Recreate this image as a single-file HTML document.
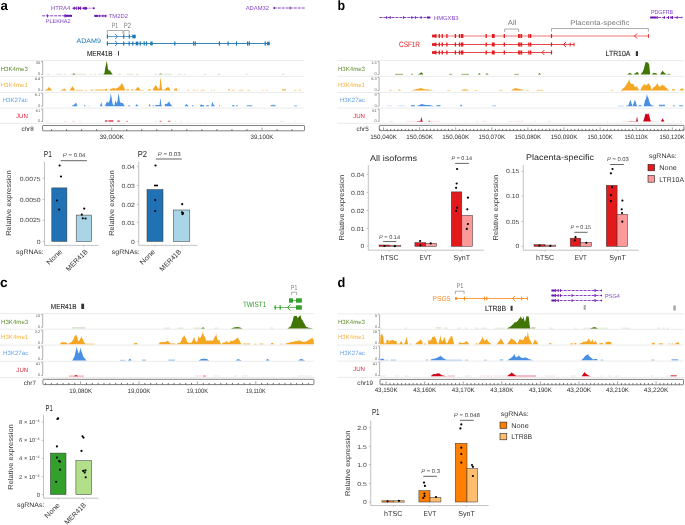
<!DOCTYPE html>
<html><head><meta charset="utf-8"><style>
html,body{margin:0;padding:0;background:#fff;}
svg{display:block;font-family:"Liberation Sans", sans-serif;will-change:transform;text-rendering:geometricPrecision;}
</style></head><body>
<svg width="685" height="525" viewBox="0 0 685 525">
<rect width="685" height="525" fill="#fff"/>
<text x="0.6" y="10.35" font-size="13.2" fill="#000" font-weight="bold" >a</text>
<text x="337.6" y="10.1" font-size="13.6" fill="#000" font-weight="bold" textLength="7.6" lengthAdjust="spacingAndGlyphs" >b</text>
<text x="-0.1" y="287.2" font-size="13.6" fill="#000" font-weight="bold" textLength="7.6" lengthAdjust="spacingAndGlyphs" >c</text>
<text x="337.4" y="287.1" font-size="13.6" fill="#000" font-weight="bold" textLength="7.8" lengthAdjust="spacingAndGlyphs" >d</text>
<text x="50.9" y="9.99" font-size="5.8" fill="#8447c8" textLength="19.3" lengthAdjust="spacingAndGlyphs" >HTRA4</text>
<line x1="72.5" y1="8.2" x2="94" y2="8.2" stroke="#6a12b0" stroke-width="0.7"  opacity="0.6"/>
<path d="M72.3 8.2 L74.7 6.4 L74.7 10 Z" fill="#6a12b0"/>
<rect x="74.2" y="7.4" width="1.4" height="1.6" fill="#6a12b0"/>
<rect x="76.25" y="6.5" width="0.9" height="3.4" fill="#6a12b0"/>
<rect x="77.95" y="6.5" width="0.9" height="3.4" fill="#6a12b0"/>
<rect x="80.15" y="6.5" width="0.9" height="3.4" fill="#6a12b0"/>
<rect x="78.4" y="7.4" width="2.2" height="1.6" fill="#6a12b0"/>
<path d="M82.3 8.2 L84.3 6.6 L84.3 9.8 Z" fill="#6a12b0"/>
<circle cx="85.6" cy="8.2" r="1.5" fill="#6a12b0"/>
<circle cx="93.8" cy="8.2" r="1" fill="#6a12b0"/>
<line x1="42.2" y1="15.8" x2="72" y2="15.8" stroke="#6a12b0" stroke-width="0.8"  stroke-dasharray="3 1"/>
<rect x="46.95" y="14.3" width="0.9" height="3" fill="#6a12b0"/>
<rect x="64.55" y="14.1" width="0.9" height="3.4" fill="#6a12b0"/>
<rect x="64.8" y="14.8" width="7.2" height="2" fill="#6a12b0"/>
<text x="45.7" y="23.02" font-size="5.6" fill="#8447c8" textLength="24.9" lengthAdjust="spacingAndGlyphs" >PLEKHA2</text>
<line x1="94" y1="15.9" x2="106.6" y2="15.9" stroke="#6a12b0" stroke-width="0.8" />
<rect x="94.5" y="14.9" width="3.4" height="2" fill="#6a12b0"/>
<path d="M98.4 15.9 L100.2 14.3 L100.2 17.5 Z" fill="#6a12b0"/>
<path d="M101.6 15.9 L103.4 14.3 L103.4 17.5 Z" fill="#6a12b0"/>
<path d="M104.2 15.9 L105.7 14.4 L105.7 17.4 Z" fill="#6a12b0"/>
<path d="M106.8 15.9 L105.3 14.4 L105.3 17.4 Z" fill="#6a12b0"/>
<text x="108.8" y="17.89" font-size="5.8" fill="#8447c8" textLength="19.2" lengthAdjust="spacingAndGlyphs" >TM2D2</text>
<text x="245.7" y="10.09" font-size="5.8" fill="#8447c8" textLength="23.3" lengthAdjust="spacingAndGlyphs" >ADAM32</text>
<line x1="273.7" y1="8" x2="304.7" y2="8" stroke="#6a12b0" stroke-width="0.8"  stroke-dasharray="3 1"/>
<rect x="273.6" y="6.9" width="1.2" height="2.2" fill="#6a12b0"/>
<rect x="289.6" y="6.5" width="0.8" height="3" fill="#6a12b0"/>
<text x="111.8" y="27.79" font-size="7.6" fill="#7a7a7a" textLength="6.3" lengthAdjust="spacingAndGlyphs" >P1</text>
<text x="123.8" y="28.39" font-size="7.6" fill="#7a7a7a" textLength="7.3" lengthAdjust="spacingAndGlyphs" >P2</text>
<path d="M107.3 33.8 V30.5 H122.9 V33.8" fill="none" stroke="#777" stroke-width="0.6"/>
<path d="M123.9 33.8 V30.5 H129.2 V33.8" fill="none" stroke="#777" stroke-width="0.6"/>
<text x="76.4" y="42.78" font-size="6.6" fill="#1f78b4" textLength="24.6" lengthAdjust="spacingAndGlyphs" >ADAM9</text>
<line x1="107.4" y1="36.5" x2="135.4" y2="36.5" stroke="#1f78b4" stroke-width="0.7" />
<rect x="106.8" y="34.4" width="1.2" height="4.2" fill="#1f78b4"/>
<rect x="123.1" y="34.4" width="1.2" height="4.2" fill="#1f78b4"/>
<rect x="128.7" y="34.4" width="1.2" height="4.2" fill="#1f78b4"/>
<rect x="132.3" y="34.7" width="3.4" height="3.6" fill="#1f78b4"/>
<path d="M115.1 34 L117.6 36.5 L115.1 39" fill="none" stroke="#1f78b4" stroke-width="0.9"/>
<line x1="106.9" y1="43.5" x2="269.8" y2="43.5" stroke="#1f78b4" stroke-width="0.9" />
<rect x="106.8" y="41.4" width="1.2" height="4.2" fill="#1f78b4"/>
<rect x="123.1" y="41.4" width="1.2" height="4.2" fill="#1f78b4"/>
<rect x="128.6" y="41.4" width="1.2" height="4.2" fill="#1f78b4"/>
<rect x="132.2" y="41.4" width="1.2" height="4.2" fill="#1f78b4"/>
<rect x="139.7" y="41.4" width="1.2" height="4.2" fill="#1f78b4"/>
<rect x="143.6" y="41.4" width="1.2" height="4.2" fill="#1f78b4"/>
<rect x="145.9" y="41.4" width="1.2" height="4.2" fill="#1f78b4"/>
<rect x="174.2" y="41.4" width="1.2" height="4.2" fill="#1f78b4"/>
<rect x="193" y="41.4" width="1.2" height="4.2" fill="#1f78b4"/>
<rect x="194.7" y="41.4" width="1.2" height="4.2" fill="#1f78b4"/>
<rect x="218.8" y="41.4" width="1.2" height="4.2" fill="#1f78b4"/>
<rect x="227.5" y="41.4" width="1.2" height="4.2" fill="#1f78b4"/>
<rect x="235.9" y="41.4" width="1.2" height="4.2" fill="#1f78b4"/>
<rect x="247" y="41.4" width="1.2" height="4.2" fill="#1f78b4"/>
<rect x="248.7" y="41.4" width="1.2" height="4.2" fill="#1f78b4"/>
<rect x="264.6" y="41.4" width="1.2" height="4.2" fill="#1f78b4"/>
<rect x="135.7" y="41.6" width="2.6" height="3.8" fill="#1f78b4"/>
<rect x="150.25" y="41.6" width="2.5" height="3.8" fill="#1f78b4"/>
<rect x="267.1" y="41.7" width="2.6" height="3.6" fill="#1f78b4"/>
<path d="M115.1 41 L117.6 43.5 L115.1 46" fill="none" stroke="#1f78b4" stroke-width="0.9"/>
<text x="87" y="55.93" font-size="7.3" fill="#231f20" textLength="25.6" lengthAdjust="spacingAndGlyphs" stroke="#231f20" stroke-width="0.1">MER41B</text>
<rect x="118.1" y="51" width="0.9" height="4.6" fill="#333"/>
<line x1="0" y1="60.5" x2="304.5" y2="60.5" stroke="#ebebeb" stroke-width="1" />
<line x1="0" y1="76.3" x2="304.5" y2="76.3" stroke="#ebebeb" stroke-width="1" />
<line x1="0" y1="92.4" x2="304.5" y2="92.4" stroke="#ebebeb" stroke-width="1" />
<line x1="0" y1="108.1" x2="304.5" y2="108.1" stroke="#ebebeb" stroke-width="1" />
<line x1="0" y1="123.4" x2="304.5" y2="123.4" stroke="#ebebeb" stroke-width="1" />
<path d="M41.1 61.5 H42.7 V74.4 H41.1" fill="none" stroke="#6e6e6e" stroke-width="0.55"/>
<text x="27.8" y="70.6" font-size="6.1" fill="#417505" text-anchor="end" opacity="0.85">H3K4me3</text>
<text x="40.3" y="63.94" font-size="4" fill="#666" text-anchor="end" >35</text>
<text x="40.3" y="75.14" font-size="4" fill="#666" text-anchor="end" >0</text>
<path d="M41.1 77.3 H42.7 V90.5 H41.1" fill="none" stroke="#6e6e6e" stroke-width="0.55"/>
<text x="27.8" y="86.55" font-size="6.1" fill="#f5a623" text-anchor="end" opacity="0.85">H3K4me1</text>
<text x="40.3" y="79.74" font-size="4" fill="#666" text-anchor="end" >4.4</text>
<text x="40.3" y="91.24" font-size="4" fill="#666" text-anchor="end" >0</text>
<path d="M41.1 93.4 H42.7 V106.2 H41.1" fill="none" stroke="#6e6e6e" stroke-width="0.55"/>
<text x="27.8" y="102.45" font-size="6.1" fill="#4a90e2" text-anchor="end" opacity="0.85">H3K27ac</text>
<text x="40.3" y="95.84" font-size="4" fill="#666" text-anchor="end" >6.1</text>
<text x="40.3" y="106.94" font-size="4" fill="#666" text-anchor="end" >0</text>
<path d="M41.1 109.1 H42.7 V121.5 H41.1" fill="none" stroke="#6e6e6e" stroke-width="0.55"/>
<text x="27.8" y="117.95" font-size="6.1" fill="#d0021b" text-anchor="end" opacity="0.85">JUN</text>
<text x="40.3" y="111.54" font-size="4" fill="#666" text-anchor="end" >61</text>
<text x="40.3" y="122.24" font-size="4" fill="#666" text-anchor="end" >0</text>
<rect x="47" y="73.8" width="2.6" height="0.7" fill="#417505" opacity="0.26"/>
<rect x="56.6" y="73.8" width="5.1" height="0.7" fill="#417505" opacity="0.26"/>
<rect x="63.6" y="73.8" width="2.4" height="0.7" fill="#417505" opacity="0.26"/>
<rect x="70.6" y="73.8" width="6.4" height="0.7" fill="#417505" opacity="0.26"/>
<rect x="77.6" y="73.8" width="8.4" height="0.7" fill="#417505" opacity="0.26"/>
<rect x="89.8" y="73.8" width="1.9" height="0.7" fill="#417505" opacity="0.26"/>
<rect x="93.6" y="73.8" width="1.9" height="0.7" fill="#417505" opacity="0.26"/>
<rect x="98" y="73.8" width="4.5" height="0.7" fill="#417505" opacity="0.26"/>
<rect x="117.9" y="73.8" width="3.1" height="0.7" fill="#417505" opacity="0.26"/>
<rect x="126.4" y="73.8" width="7" height="0.7" fill="#417505" opacity="0.26"/>
<rect x="136" y="73.8" width="3" height="0.7" fill="#417505" opacity="0.26"/>
<rect x="154.5" y="73.8" width="2.5" height="0.7" fill="#417505" opacity="0.26"/>
<rect x="163.4" y="73.8" width="8.9" height="0.7" fill="#417505" opacity="0.26"/>
<rect x="178" y="73.8" width="3.5" height="0.7" fill="#417505" opacity="0.26"/>
<rect x="183.8" y="73.8" width="1.9" height="0.7" fill="#417505" opacity="0.26"/>
<rect x="203.6" y="73.8" width="2.8" height="0.7" fill="#417505" opacity="0.26"/>
<rect x="216.9" y="73.8" width="4" height="0.7" fill="#417505" opacity="0.26"/>
<rect x="245.4" y="73.8" width="2.5" height="0.7" fill="#417505" opacity="0.26"/>
<rect x="281.9" y="73.8" width="2.9" height="0.7" fill="#417505" opacity="0.26"/>
<path d="M72.5 74.5 L72.5 74.5 L73.8 73.3 L75.2 74.5 L75.2 74.5 Z" fill="#417505"/>
<path d="M158.3 74.5 L158.3 74.5 L160.5 73.3 L162.8 74.5 L162.8 74.5 Z" fill="#417505" opacity="0.6"/>
<path d="M103.2 74.5 L103.2 74.5 L104.5 73 L105.2 68 L106 64.5 L106.6 61.1 L107.3 64 L108 69 L108.8 70.5 L109.6 70.2 L110.6 71.5 L111.6 73.1 L112.8 74.5 L112.8 74.5 Z" fill="#417505"/>
<path d="M44.5 90.5 L44.5 90.5 L46 89.7 L46.67 89.36 L47.33 88.94 L48 88.5 L48.9 86.7 L49.45 87.68 L50 88 L50.75 89.02 L51.5 90 L52.8 90.5 L52.8 90.5 Z" fill="#f5a623"/>
<path d="M60.4 90.5 L60.4 90.5 L62 89.7 L62.58 89.57 L63.16 89.33 L63.74 89.05 L64.32 88.96 L64.9 88.6 L65.53 89.24 L66.17 89.91 L66.8 90.5 L66.8 90.5 Z" fill="#f5a623"/>
<path d="M69.4 90.5 L69.4 90.5 L70.2 89.51 L71 88.5 L71.75 87.35 L72.5 86.1 L73.25 87.52 L74 88.5 L75.1 90.5 L75.1 90.5 Z" fill="#f5a623"/>
<rect x="75.7" y="89.9" width="7.7" height="0.6" fill="#f5a623" opacity="0.85"/>
<rect x="85" y="89.9" width="2" height="0.6" fill="#f5a623" opacity="0.85"/>
<rect x="90.4" y="89.5" width="3.2" height="1" fill="#f5a623" opacity="0.85"/>
<rect x="94.9" y="89.5" width="12.1" height="1" fill="#f5a623" opacity="0.85"/>
<path d="M105 90.5 L105 90.5 L105.7 89.63 L106.4 88.5 L107 89.52 L107.6 90.5 L107.6 90.5 Z" fill="#f5a623"/>
<path d="M109.6 90.5 L109.6 90.5 L110.2 89 L110.76 88.86 L111.32 88.79 L111.88 88.72 L112.44 88.41 L113 88 L113.6 88.25 L114.2 88.56 L114.8 88.32 L115.4 88.69 L116 88.5 L116.67 88.27 L117.33 87.89 L118 87.5 L118.67 86.9 L119.33 86.38 L120 85.5 L120.57 85.4 L121.13 83.96 L121.7 82.9 L122.35 84.33 L123 84.5 L123.6 86.46 L124.2 87.5 L125.1 90.5 L125.1 90.5 Z" fill="#f5a623"/>
<rect x="126.4" y="89.3" width="2.6" height="1.2" fill="#f5a623" opacity="0.85"/>
<rect x="130.8" y="89.3" width="2.6" height="1.2" fill="#f5a623" opacity="0.85"/>
<rect x="140.4" y="89.9" width="3.2" height="0.6" fill="#f5a623" opacity="0.85"/>
<rect x="148" y="89.3" width="3" height="1.2" fill="#f5a623" opacity="0.85"/>
<path d="M134.7 90.5 L134.7 90.5 L135.3 89.87 L135.9 89.28 L136.5 88.5 L137.2 87.63 L137.9 86.7 L138.7 87.63 L139.5 88.5 L140.4 90.5 L140.4 90.5 Z" fill="#f5a623"/>
<path d="M152.5 90.5 L152.5 90.5 L153.25 89.05 L154 87.5 L154.57 87.02 L155.13 86.03 L155.7 84.8 L156.35 85.89 L157 86.5 L157.65 88.01 L158.3 89 L158.9 88.65 L159.5 88 L160.5 77.1 L161.3 82.5 L161.9 88.5 L162.8 90.5 L162.8 90.5 Z" fill="#f5a623"/>
<rect x="163.4" y="89.5" width="2.1" height="1" fill="#f5a623" opacity="0.85"/>
<path d="M164.7 90.5 L164.7 90.5 L165.35 89.31 L166 88 L166.63 87.94 L167.27 87.51 L167.9 86.7 L168.7 87.47 L169.5 88 L170.4 90.5 L170.4 90.5 Z" fill="#f5a623"/>
<path d="M173.6 90.5 L173.6 90.5 L174.3 89.59 L175 88.5 L175.75 88.53 L176.5 88.2 L177.3 89.51 L178.1 90.5 L178.1 90.5 Z" fill="#f5a623"/>
<rect x="179" y="89.8" width="1" height="0.7" fill="#f5a623" opacity="0.7"/>
<rect x="187" y="89.8" width="2.5" height="0.7" fill="#f5a623" opacity="0.7"/>
<rect x="192.8" y="89.8" width="2.7" height="0.7" fill="#f5a623" opacity="0.7"/>
<rect x="196.6" y="89.8" width="1.4" height="0.7" fill="#f5a623" opacity="0.7"/>
<rect x="200.4" y="89.8" width="4.6" height="0.7" fill="#f5a623" opacity="0.7"/>
<rect x="210.9" y="89.8" width="1.1" height="0.7" fill="#f5a623" opacity="0.7"/>
<rect x="213.5" y="89.8" width="1.5" height="0.7" fill="#f5a623" opacity="0.7"/>
<rect x="228" y="89" width="1.7" height="1.5" fill="#f5a623" opacity="0.7"/>
<rect x="232" y="89.8" width="2.5" height="0.7" fill="#f5a623" opacity="0.7"/>
<rect x="238.5" y="89.8" width="4.9" height="0.7" fill="#f5a623" opacity="0.7"/>
<rect x="247.4" y="89.8" width="2.6" height="0.7" fill="#f5a623" opacity="0.7"/>
<rect x="261.8" y="89.8" width="1.6" height="0.7" fill="#f5a623" opacity="0.7"/>
<rect x="265.8" y="89.8" width="1.7" height="0.7" fill="#f5a623" opacity="0.7"/>
<rect x="282" y="89" width="4" height="1.5" fill="#f5a623" opacity="0.7"/>
<rect x="294" y="89.8" width="2.4" height="0.7" fill="#f5a623" opacity="0.7"/>
<rect x="298.3" y="89.8" width="2.7" height="0.7" fill="#f5a623" opacity="0.7"/>
<path d="M71.3 106.3 L71.3 106.3 L73 105.3 L73.67 104.98 L74.33 104.39 L75 103.8 L76.1 102.6 L76.85 104.74 L77.6 106.3 L77.6 106.3 Z" fill="#4a90e2"/>
<rect x="84" y="105.1" width="1.3" height="1.2" fill="#4a90e2" opacity="0.85"/>
<rect x="88.9" y="105.5" width="0.6" height="0.8" fill="#4a90e2" opacity="0.85"/>
<rect x="127.7" y="105.4" width="2.5" height="0.9" fill="#4a90e2" opacity="0.85"/>
<rect x="152.5" y="105.3" width="1.3" height="1" fill="#4a90e2" opacity="0.85"/>
<rect x="192" y="105.1" width="1.4" height="1.2" fill="#4a90e2" opacity="0.85"/>
<rect x="200" y="105" width="4" height="1.3" fill="#4a90e2" opacity="0.85"/>
<rect x="206.4" y="105" width="2.4" height="1.3" fill="#4a90e2" opacity="0.85"/>
<rect x="219" y="105.3" width="1" height="1" fill="#4a90e2" opacity="0.85"/>
<rect x="232.1" y="105" width="2.4" height="1.3" fill="#4a90e2" opacity="0.85"/>
<rect x="236.1" y="105.2" width="1.6" height="1.1" fill="#4a90e2" opacity="0.85"/>
<rect x="246.6" y="105.3" width="5.6" height="1" fill="#4a90e2" opacity="0.85"/>
<rect x="270.7" y="104.9" width="4.8" height="1.4" fill="#4a90e2" opacity="0.85"/>
<rect x="294" y="105.5" width="3" height="0.8" fill="#4a90e2" opacity="0.85"/>
<path d="M100 106.3 L100 106.3 L100.6 104.14 L101.2 101.9 L101.85 104.25 L102.5 106.3 L102.5 106.3 Z" fill="#4a90e2"/>
<path d="M105 106.3 L105 106.3 L106 103.8 L107 101.3 L107.75 102.56 L108.5 102.8 L109.25 101.18 L110 99.3 L110.8 93 L111.5 97.3 L112.5 103.3 L113.4 105.3 L114.5 105.3 L115.3 100 L115.9 102.01 L116.5 103.3 L117.5 101.3 L118.5 93 L119.3 97.3 L120 102.3 L121 102.8 L121.67 102.89 L122.33 103.29 L123 103 L123.75 104.63 L124.5 105.8 L125 106.3 L125 106.3 Z" fill="#4a90e2"/>
<path d="M135.3 106.3 L135.3 106.3 L135.9 105.3 L136.5 104.1 L137.17 105.04 L137.83 105.6 L138.5 106.3 L138.5 106.3 Z" fill="#4a90e2"/>
<path d="M148.7 106.3 L148.7 106.3 L149.6 103.8 L150.6 106.3 L150.6 106.3 Z" fill="#4a90e2"/>
<path d="M155.1 106.3 L155.1 106.3 L155.5 105 L159.5 105 L160.5 97.8 L161.3 105 L162.1 106.3 L162.1 106.3 Z" fill="#4a90e2"/>
<path d="M164.7 106.3 L164.7 106.3 L165 103.8 L165.67 104.08 L166.33 104.04 L167 103.8 L167.7 103.25 L168.4 102.38 L169.1 101.2 L169.8 103.01 L170.5 103.8 L171.1 104.89 L171.7 105.53 L172.3 106.3 L172.3 106.3 Z" fill="#4a90e2"/>
<path d="M184.5 106.3 L184.5 106.3 L185.17 105.56 L185.83 104.65 L186.5 103.8 L187.1 104.64 L187.7 105.18 L188.3 105.77 L188.9 106.3 L188.9 106.3 Z" fill="#4a90e2"/>
<path d="M199.8 106.3 L199.8 106.3 L200.37 105.72 L200.93 105.03 L201.5 104.3 L202.2 105.05 L202.9 105.7 L203.6 106.3 L203.6 106.3 Z" fill="#4a90e2"/>
<path d="M211.2 106.3 L211.2 106.3 L211.8 103.91 L212.4 101.5 L213.5 104.8 L215.3 106.3 L215.3 106.3 Z" fill="#4a90e2"/>
<rect x="45.7" y="120.9" width="3.3" height="0.7" fill="#d0021b" opacity="0.15"/>
<rect x="63.6" y="120.9" width="3.4" height="0.7" fill="#d0021b" opacity="0.15"/>
<rect x="72.5" y="120.9" width="2" height="0.7" fill="#d0021b" opacity="0.3"/>
<rect x="79" y="120.9" width="2" height="0.7" fill="#d0021b" opacity="0.15"/>
<rect x="155" y="120.9" width="2" height="0.7" fill="#d0021b" opacity="0.15"/>
<rect x="159.6" y="120.8" width="1.9" height="0.8" fill="#d0021b" opacity="0.8"/>
<rect x="167.9" y="120.8" width="2.5" height="0.8" fill="#d0021b" opacity="0.8"/>
<rect x="174.8" y="120.9" width="1.2" height="0.7" fill="#d0021b" opacity="0.15"/>
<rect x="180" y="120.9" width="2.5" height="0.7" fill="#d0021b" opacity="0.15"/>
<rect x="187.6" y="120.9" width="1.4" height="0.7" fill="#d0021b" opacity="0.15"/>
<rect x="205" y="120.9" width="1" height="0.7" fill="#d0021b" opacity="0.15"/>
<rect x="279.5" y="120.9" width="4.8" height="0.7" fill="#d0021b" opacity="0.15"/>
<rect x="294" y="120.9" width="1.5" height="0.7" fill="#d0021b" opacity="0.15"/>
<rect x="105" y="120.4" width="2.5" height="1.2" fill="#d0021b" opacity="0.95"/>
<rect x="108.5" y="120.4" width="4.9" height="1.2" fill="#d0021b" opacity="0.95"/>
<rect x="117.2" y="120.6" width="2.6" height="1" fill="#d0021b" opacity="0.95"/>
<rect x="126" y="120.9" width="2" height="0.7" fill="#d0021b" opacity="0.6"/>
<rect x="42.5" y="125.5" width="262" height="5.3" fill="none" stroke="#6a6a6a" stroke-width="0.85" rx="0.6"/>
<text x="33.7" y="130.72" font-size="6.3" fill="#333" text-anchor="end" >chr8</text>
<line x1="51.58" y1="130.8" x2="51.58" y2="129.1" stroke="#444" stroke-width="0.75" />
<line x1="66.61" y1="130.8" x2="66.61" y2="129.1" stroke="#444" stroke-width="0.75" />
<line x1="81.64" y1="130.8" x2="81.64" y2="129.1" stroke="#444" stroke-width="0.75" />
<line x1="96.67" y1="130.8" x2="96.67" y2="129.1" stroke="#444" stroke-width="0.75" />
<line x1="111.7" y1="130.8" x2="111.7" y2="127.6" stroke="#8a8a8a" stroke-width="0.8" />
<line x1="126.73" y1="130.8" x2="126.73" y2="129.1" stroke="#444" stroke-width="0.75" />
<line x1="141.76" y1="130.8" x2="141.76" y2="129.1" stroke="#444" stroke-width="0.75" />
<line x1="156.79" y1="130.8" x2="156.79" y2="129.1" stroke="#444" stroke-width="0.75" />
<line x1="171.82" y1="130.8" x2="171.82" y2="129.1" stroke="#444" stroke-width="0.75" />
<line x1="186.85" y1="130.8" x2="186.85" y2="129.1" stroke="#444" stroke-width="0.75" />
<line x1="201.88" y1="130.8" x2="201.88" y2="129.1" stroke="#444" stroke-width="0.75" />
<line x1="216.91" y1="130.8" x2="216.91" y2="129.1" stroke="#444" stroke-width="0.75" />
<line x1="231.94" y1="130.8" x2="231.94" y2="129.1" stroke="#444" stroke-width="0.75" />
<line x1="246.97" y1="130.8" x2="246.97" y2="129.1" stroke="#444" stroke-width="0.75" />
<line x1="262" y1="130.8" x2="262" y2="127.6" stroke="#8a8a8a" stroke-width="0.8" />
<line x1="277.03" y1="130.8" x2="277.03" y2="129.1" stroke="#444" stroke-width="0.75" />
<line x1="292.06" y1="130.8" x2="292.06" y2="129.1" stroke="#444" stroke-width="0.75" />
<text x="111.7" y="138.77" font-size="6.3" fill="#333" text-anchor="middle" textLength="24.52" lengthAdjust="spacingAndGlyphs" >39,000K</text>
<text x="262" y="138.77" font-size="6.3" fill="#333" text-anchor="middle" textLength="22.94" lengthAdjust="spacingAndGlyphs" >39,100K</text>
<text x="43.8" y="157.03" font-size="8.7" fill="#231f20" textLength="8" lengthAdjust="spacingAndGlyphs" >P1</text>
<text x="62.8" y="157.32" font-size="5.6" fill="#444" textLength="22.6" lengthAdjust="spacingAndGlyphs"><tspan font-style="italic">P</tspan> = 0.04</text>
<line x1="60.6" y1="160.7" x2="86.9" y2="160.7" stroke="#555" stroke-width="0.9" />
<line x1="44.5" y1="161.6" x2="44.5" y2="245.4" stroke="#9a9a9a" stroke-width="0.6" />
<line x1="42.7" y1="178.4" x2="44.5" y2="178.4" stroke="#9a9a9a" stroke-width="0.6" />
<text x="40.6" y="180.56" font-size="6" fill="#444" text-anchor="end" textLength="20.92" lengthAdjust="spacingAndGlyphs" >0.0075</text>
<line x1="42.7" y1="199.4" x2="44.5" y2="199.4" stroke="#9a9a9a" stroke-width="0.6" />
<text x="40.6" y="201.56" font-size="6" fill="#444" text-anchor="end" textLength="20.92" lengthAdjust="spacingAndGlyphs" >0.0050</text>
<line x1="42.7" y1="220.3" x2="44.5" y2="220.3" stroke="#9a9a9a" stroke-width="0.6" />
<text x="40.6" y="222.46" font-size="6" fill="#444" text-anchor="end" textLength="20.92" lengthAdjust="spacingAndGlyphs" >0.0025</text>
<line x1="42.7" y1="241.4" x2="44.5" y2="241.4" stroke="#9a9a9a" stroke-width="0.6" />
<text x="40.6" y="243.56" font-size="6" fill="#444" text-anchor="end" textLength="3.8" lengthAdjust="spacingAndGlyphs" >0</text>
<line x1="44.5" y1="245.4" x2="98.5" y2="245.4" stroke="#9a9a9a" stroke-width="0.6" />
<line x1="59.1" y1="245.4" x2="59.1" y2="246.9" stroke="#9a9a9a" stroke-width="0.5" />
<line x1="83.6" y1="245.4" x2="83.6" y2="246.9" stroke="#9a9a9a" stroke-width="0.5" />
<rect x="51.8" y="187.9" width="15.1" height="53.5" fill="#2171b5" stroke="#333" stroke-width="0.5"/>
<rect x="76.2" y="215.1" width="15.5" height="26.3" fill="#aad5e6" stroke="#333" stroke-width="0.5"/>
<circle cx="59.6" cy="165.5" r="1.1" fill="#000"/>
<circle cx="61" cy="176.5" r="1.1" fill="#000"/>
<circle cx="56.9" cy="200.5" r="1.1" fill="#000"/>
<circle cx="59.1" cy="209.6" r="1.1" fill="#000"/>
<circle cx="84.2" cy="208.6" r="1.1" fill="#000"/>
<circle cx="81.8" cy="214.6" r="1.1" fill="#000"/>
<circle cx="82.8" cy="218.3" r="1.1" fill="#000"/>
<circle cx="85.6" cy="218.5" r="1.1" fill="#000"/>
<text x="13.57" y="205.6" font-size="7" fill="#333" text-anchor="middle" transform="rotate(-90 11.05 205.6)" textLength="65.5" lengthAdjust="spacingAndGlyphs">Relative expression</text>
<text x="16" y="253.58" font-size="6.6" fill="#333" textLength="27.8" lengthAdjust="spacingAndGlyphs" >sgRNAs:</text>
<text x="0" y="0" font-size="7" fill="#333" text-anchor="end" textLength="18.6" lengthAdjust="spacingAndGlyphs" transform="translate(62.5 252.2) rotate(-45)">None</text>
<text x="0" y="0" font-size="7" fill="#333" text-anchor="end" textLength="27.5" lengthAdjust="spacingAndGlyphs" transform="translate(88.2 252.2) rotate(-45)">MER41B</text>
<text x="137.7" y="157.03" font-size="8.7" fill="#231f20" textLength="9.3" lengthAdjust="spacingAndGlyphs" >P2</text>
<text x="157.7" y="156.32" font-size="5.6" fill="#444" textLength="23" lengthAdjust="spacingAndGlyphs"><tspan font-style="italic">P</tspan> = 0.03</text>
<line x1="155.9" y1="159" x2="181.8" y2="159" stroke="#555" stroke-width="0.9" />
<line x1="138.7" y1="161.6" x2="138.7" y2="245.4" stroke="#9a9a9a" stroke-width="0.6" />
<line x1="136.9" y1="166.6" x2="138.7" y2="166.6" stroke="#9a9a9a" stroke-width="0.6" />
<text x="134.8" y="168.76" font-size="6" fill="#444" text-anchor="end" textLength="13.31" lengthAdjust="spacingAndGlyphs" >0.04</text>
<line x1="136.9" y1="185.5" x2="138.7" y2="185.5" stroke="#9a9a9a" stroke-width="0.6" />
<text x="134.8" y="187.66" font-size="6" fill="#444" text-anchor="end" textLength="13.31" lengthAdjust="spacingAndGlyphs" >0.03</text>
<line x1="136.9" y1="204.5" x2="138.7" y2="204.5" stroke="#9a9a9a" stroke-width="0.6" />
<text x="134.8" y="206.66" font-size="6" fill="#444" text-anchor="end" textLength="13.31" lengthAdjust="spacingAndGlyphs" >0.02</text>
<line x1="136.9" y1="222.4" x2="138.7" y2="222.4" stroke="#9a9a9a" stroke-width="0.6" />
<text x="134.8" y="224.56" font-size="6" fill="#444" text-anchor="end" textLength="13.31" lengthAdjust="spacingAndGlyphs" >0.01</text>
<line x1="136.9" y1="241.4" x2="138.7" y2="241.4" stroke="#9a9a9a" stroke-width="0.6" />
<text x="134.8" y="243.56" font-size="6" fill="#444" text-anchor="end" textLength="3.8" lengthAdjust="spacingAndGlyphs" >0</text>
<line x1="138.7" y1="245.4" x2="197.5" y2="245.4" stroke="#9a9a9a" stroke-width="0.6" />
<line x1="155.2" y1="245.4" x2="155.2" y2="246.9" stroke="#9a9a9a" stroke-width="0.5" />
<line x1="181.8" y1="245.4" x2="181.8" y2="246.9" stroke="#9a9a9a" stroke-width="0.5" />
<rect x="147" y="189.6" width="16" height="51.8" fill="#2171b5" stroke="#333" stroke-width="0.5"/>
<rect x="173.4" y="210" width="16.4" height="31.4" fill="#aad5e6" stroke="#333" stroke-width="0.5"/>
<circle cx="155.5" cy="165.5" r="1.1" fill="#000"/>
<circle cx="155" cy="185.5" r="1.1" fill="#000"/>
<circle cx="157" cy="185.5" r="1.1" fill="#000"/>
<circle cx="155.2" cy="200.1" r="1.1" fill="#000"/>
<circle cx="155.2" cy="211" r="1.1" fill="#000"/>
<circle cx="182.2" cy="204.2" r="1.1" fill="#000"/>
<circle cx="182" cy="212.3" r="1.1" fill="#000"/>
<circle cx="183" cy="213.2" r="1.1" fill="#000"/>
<circle cx="182.5" cy="214.2" r="1.1" fill="#000"/>
<text x="116.52" y="205.6" font-size="7" fill="#333" text-anchor="middle" transform="rotate(-90 114 205.6)" textLength="65.5" lengthAdjust="spacingAndGlyphs">Relative expression</text>
<text x="111.7" y="253.58" font-size="6.6" fill="#333" textLength="28" lengthAdjust="spacingAndGlyphs" >sgRNAs:</text>
<text x="0" y="0" font-size="7" fill="#333" text-anchor="end" textLength="18.6" lengthAdjust="spacingAndGlyphs" transform="translate(155.6 252.2) rotate(-45)">None</text>
<text x="0" y="0" font-size="7" fill="#333" text-anchor="end" textLength="27.5" lengthAdjust="spacingAndGlyphs" transform="translate(181.8 252.2) rotate(-45)">MER41B</text>
<line x1="379.4" y1="17.5" x2="431" y2="17.5" stroke="#6a12b0" stroke-width="0.8"  stroke-dasharray="3 1"/>
<rect x="386.2" y="16.2" width="1" height="2.6" fill="#6a12b0"/>
<rect x="389.7" y="16.2" width="1" height="2.6" fill="#6a12b0"/>
<rect x="403.1" y="16.2" width="1" height="2.6" fill="#6a12b0"/>
<rect x="411.3" y="16.2" width="1" height="2.6" fill="#6a12b0"/>
<rect x="414.8" y="16.2" width="1" height="2.6" fill="#6a12b0"/>
<rect x="420.6" y="16.2" width="1" height="2.6" fill="#6a12b0"/>
<rect x="426.9" y="16.5" width="3.4" height="2" fill="#6a12b0"/>
<text x="434" y="19.59" font-size="5.8" fill="#8447c8" textLength="24.5" lengthAdjust="spacingAndGlyphs" >HMGXB3</text>
<text x="399" y="46.91" font-size="7.8" fill="#e31a1c" textLength="21" lengthAdjust="spacingAndGlyphs" >CSF1R</text>
<line x1="432" y1="36" x2="648.4" y2="36" stroke="#e31a1c" stroke-width="0.8"  opacity="0.75"/>
<rect x="432.1" y="34.6" width="3.8" height="2.8" fill="#e31a1c"/>
<rect x="435.1" y="34.1" width="1.4" height="3.8" fill="#e31a1c"/>
<rect x="438.65" y="34" width="1.3" height="4" fill="#e31a1c"/>
<rect x="441.65" y="34" width="1.3" height="4" fill="#e31a1c"/>
<rect x="446.25" y="34" width="1.3" height="4" fill="#e31a1c"/>
<rect x="454.75" y="34" width="1.3" height="4" fill="#e31a1c"/>
<rect x="458.85" y="34" width="1.3" height="4" fill="#e31a1c"/>
<rect x="460.85" y="34" width="1.3" height="4" fill="#e31a1c"/>
<rect x="462.05" y="34" width="1.3" height="4" fill="#e31a1c"/>
<rect x="485.55" y="34" width="1.3" height="4" fill="#e31a1c"/>
<rect x="503.65" y="34" width="1.3" height="4" fill="#e31a1c"/>
<rect x="518.05" y="34" width="1.3" height="4" fill="#e31a1c"/>
<rect x="519.25" y="34" width="1.3" height="4" fill="#e31a1c"/>
<rect x="520.85" y="34" width="1.3" height="4" fill="#e31a1c"/>
<rect x="528.25" y="34" width="1.3" height="4" fill="#e31a1c"/>
<rect x="529.95" y="34" width="1.3" height="4" fill="#e31a1c"/>
<rect x="491.9" y="34" width="2.8" height="4" fill="#e31a1c"/>
<rect x="550.9" y="34" width="1.2" height="4" fill="#e31a1c"/>
<line x1="432" y1="44.5" x2="574.3" y2="44.5" stroke="#e31a1c" stroke-width="0.8" />
<rect x="432.1" y="43.1" width="3.8" height="2.8" fill="#e31a1c"/>
<rect x="435.1" y="42.6" width="1.4" height="3.8" fill="#e31a1c"/>
<rect x="438.65" y="42.5" width="1.3" height="4" fill="#e31a1c"/>
<rect x="441.65" y="42.5" width="1.3" height="4" fill="#e31a1c"/>
<rect x="446.25" y="42.5" width="1.3" height="4" fill="#e31a1c"/>
<rect x="454.75" y="42.5" width="1.3" height="4" fill="#e31a1c"/>
<rect x="458.85" y="42.5" width="1.3" height="4" fill="#e31a1c"/>
<rect x="460.85" y="42.5" width="1.3" height="4" fill="#e31a1c"/>
<rect x="462.05" y="42.5" width="1.3" height="4" fill="#e31a1c"/>
<rect x="485.55" y="42.5" width="1.3" height="4" fill="#e31a1c"/>
<rect x="503.65" y="42.5" width="1.3" height="4" fill="#e31a1c"/>
<rect x="518.05" y="42.5" width="1.3" height="4" fill="#e31a1c"/>
<rect x="519.25" y="42.5" width="1.3" height="4" fill="#e31a1c"/>
<rect x="520.85" y="42.5" width="1.3" height="4" fill="#e31a1c"/>
<rect x="528.25" y="42.5" width="1.3" height="4" fill="#e31a1c"/>
<rect x="529.95" y="42.5" width="1.3" height="4" fill="#e31a1c"/>
<rect x="491.9" y="42.5" width="2.8" height="4" fill="#e31a1c"/>
<rect x="550.9" y="42.5" width="1.2" height="4" fill="#e31a1c"/>
<line x1="432" y1="52.5" x2="551.5" y2="52.5" stroke="#e31a1c" stroke-width="0.8" />
<rect x="432.1" y="51.1" width="3.8" height="2.8" fill="#e31a1c"/>
<rect x="435.1" y="50.6" width="1.4" height="3.8" fill="#e31a1c"/>
<rect x="438.65" y="50.5" width="1.3" height="4" fill="#e31a1c"/>
<rect x="441.65" y="50.5" width="1.3" height="4" fill="#e31a1c"/>
<rect x="446.25" y="50.5" width="1.3" height="4" fill="#e31a1c"/>
<rect x="454.75" y="50.5" width="1.3" height="4" fill="#e31a1c"/>
<rect x="458.85" y="50.5" width="1.3" height="4" fill="#e31a1c"/>
<rect x="460.85" y="50.5" width="1.3" height="4" fill="#e31a1c"/>
<rect x="462.05" y="50.5" width="1.3" height="4" fill="#e31a1c"/>
<rect x="485.55" y="50.5" width="1.3" height="4" fill="#e31a1c"/>
<rect x="503.65" y="50.5" width="1.3" height="4" fill="#e31a1c"/>
<rect x="518.05" y="50.5" width="1.3" height="4" fill="#e31a1c"/>
<rect x="519.25" y="50.5" width="1.3" height="4" fill="#e31a1c"/>
<rect x="520.85" y="50.5" width="1.3" height="4" fill="#e31a1c"/>
<rect x="528.25" y="50.5" width="1.3" height="4" fill="#e31a1c"/>
<rect x="529.95" y="50.5" width="1.3" height="4" fill="#e31a1c"/>
<rect x="491.9" y="50.5" width="2.8" height="4" fill="#e31a1c"/>
<rect x="550.9" y="50.5" width="1.2" height="4" fill="#e31a1c"/>
<path d="M637 33.5 L634.5 36 L637 38.5" fill="none" stroke="#e31a1c" stroke-width="0.9"/>
<path d="M566 42 L563.5 44.5 L566 47" fill="none" stroke="#e31a1c" stroke-width="0.9"/>
<rect x="569.75" y="42.6" width="0.9" height="3.8" fill="#e31a1c"/>
<rect x="573.55" y="42.6" width="0.9" height="3.8" fill="#e31a1c"/>
<rect x="647.95" y="34.1" width="0.9" height="3.8" fill="#e31a1c"/>
<path d="M544.4 50 L541.9 52.5 L544.4 55" fill="none" stroke="#e31a1c" stroke-width="0.9"/>
<text x="507.8" y="25.19" font-size="7.2" fill="#7a7a7a" textLength="8.6" lengthAdjust="spacingAndGlyphs" >All</text>
<path d="M504.7 32 V29 H518.7 V32" fill="none" stroke="#777" stroke-width="0.6"/>
<text x="570.2" y="24.78" font-size="6.9" fill="#7a7a7a" textLength="59.2" lengthAdjust="spacingAndGlyphs" >Placenta-specific</text>
<path d="M551.5 31.6 V28.5 H648.4 V31.6" fill="none" stroke="#777" stroke-width="0.6"/>
<text x="605.6" y="56.34" font-size="7.6" fill="#231f20" textLength="24.8" lengthAdjust="spacingAndGlyphs" stroke="#231f20" stroke-width="0.1">LTR10A</text>
<rect x="635.8" y="51.2" width="2.2" height="4.8" fill="#333"/>
<text x="650.9" y="13.89" font-size="5.8" fill="#8447c8" textLength="22.3" lengthAdjust="spacingAndGlyphs" >PDGFRB</text>
<line x1="650.2" y1="17.5" x2="682.5" y2="17.5" stroke="#6a12b0" stroke-width="0.8"  stroke-dasharray="3 1"/>
<rect x="650.2" y="16.5" width="6" height="2" fill="#6a12b0"/>
<rect x="656.7" y="16.1" width="1" height="2.8" fill="#6a12b0"/>
<rect x="663.8" y="16.1" width="1" height="2.8" fill="#6a12b0"/>
<rect x="668" y="16.1" width="1" height="2.8" fill="#6a12b0"/>
<rect x="670.5" y="16.1" width="1" height="2.8" fill="#6a12b0"/>
<rect x="672" y="16.1" width="1" height="2.8" fill="#6a12b0"/>
<rect x="676.7" y="16.1" width="1" height="2.8" fill="#6a12b0"/>
<rect x="681.3" y="16.7" width="1" height="1.6" fill="#6a12b0"/>
<line x1="337" y1="60.5" x2="683.5" y2="60.5" stroke="#ebebeb" stroke-width="1" />
<line x1="337" y1="76.3" x2="683.5" y2="76.3" stroke="#ebebeb" stroke-width="1" />
<line x1="337" y1="92.4" x2="683.5" y2="92.4" stroke="#ebebeb" stroke-width="1" />
<line x1="337" y1="108.1" x2="683.5" y2="108.1" stroke="#ebebeb" stroke-width="1" />
<line x1="337" y1="123.3" x2="683.5" y2="123.3" stroke="#ebebeb" stroke-width="1" />
<path d="M377.5 61.5 H379.1 V74.4 H377.5" fill="none" stroke="#6e6e6e" stroke-width="0.55"/>
<text x="365" y="70.6" font-size="6.1" fill="#417505" text-anchor="end" opacity="0.85">H3K4me3</text>
<text x="376.7" y="63.94" font-size="4" fill="#666" text-anchor="end" >1.5</text>
<text x="376.7" y="75.14" font-size="4" fill="#666" text-anchor="end" >0</text>
<path d="M377.5 77.3 H379.1 V90.5 H377.5" fill="none" stroke="#6e6e6e" stroke-width="0.55"/>
<text x="365" y="86.55" font-size="6.1" fill="#f5a623" text-anchor="end" opacity="0.85">H3K4me1</text>
<text x="376.7" y="79.74" font-size="4" fill="#666" text-anchor="end" >6.3</text>
<text x="376.7" y="91.24" font-size="4" fill="#666" text-anchor="end" >0</text>
<path d="M377.5 93.4 H379.1 V106.2 H377.5" fill="none" stroke="#6e6e6e" stroke-width="0.55"/>
<text x="365" y="102.45" font-size="6.1" fill="#4a90e2" text-anchor="end" opacity="0.85">H3K27ac</text>
<text x="376.7" y="95.84" font-size="4" fill="#666" text-anchor="end" >9</text>
<text x="376.7" y="106.94" font-size="4" fill="#666" text-anchor="end" >0</text>
<path d="M377.5 109.1 H379.1 V121.4 H377.5" fill="none" stroke="#6e6e6e" stroke-width="0.55"/>
<text x="365" y="117.9" font-size="6.1" fill="#d0021b" text-anchor="end" opacity="0.85">JUN</text>
<text x="376.7" y="111.54" font-size="4" fill="#666" text-anchor="end" >61</text>
<text x="376.7" y="122.14" font-size="4" fill="#666" text-anchor="end" >0</text>
<rect x="395" y="73.9" width="8" height="0.6" fill="#417505" opacity="0.9"/>
<rect x="449" y="73.9" width="3.2" height="0.6" fill="#417505" opacity="0.9"/>
<rect x="461.4" y="73.9" width="7.6" height="0.6" fill="#417505" opacity="0.9"/>
<rect x="514.3" y="73.9" width="4.6" height="0.6" fill="#417505" opacity="0.9"/>
<rect x="667.2" y="73.9" width="3.3" height="0.6" fill="#417505" opacity="0.9"/>
<path d="M410.9 74.5 L410.9 74.5 L412 73.5 L413.2 74.5 L413.2 74.5 Z" fill="#417505"/>
<path d="M417.5 74.5 L417.5 74.5 L419 73.9 L420.5 73 L421.4 72.2 L422.3 73 L423.3 74.5 L423.3 74.5 Z" fill="#417505"/>
<path d="M478 74.5 L478 74.5 L479.5 73.1 L480.8 74.5 L480.8 74.5 Z" fill="#417505"/>
<path d="M485.4 74.5 L485.4 74.5 L487 73.3 L488.7 74.5 L488.7 74.5 Z" fill="#417505"/>
<path d="M538 74.5 L538 74.5 L539.5 73.1 L541 74.5 L541 74.5 Z" fill="#417505"/>
<path d="M627.2 74.5 L627.2 74.5 L629 73.2 L630 72.8 L630.62 73.32 L631.25 73.67 L631.88 74.08 L632.5 74.5 L633.1 74.5 L635 73.5 L635.67 72.92 L636.33 72.57 L637 71.7 L638 72.5 L639 74.5 L640.3 74.5 L641.5 73.3 L642.15 72.44 L642.8 71.5 L643.8 69 L644.8 65 L645.6 61.9 L646.3 62.3 L647 61.7 L647.63 62.75 L648.27 63.94 L648.9 62.5 L649.6 68.5 L650.2 74.5 L651.5 74.5 L653 73.3 L653.67 73.12 L654.33 73.01 L655 72.7 L655.75 73.22 L656.5 73.5 L658 74.5 L660 74.5 L660.75 73.43 L661.5 72 L662.1 71.55 L662.7 70.2 L663.35 71.79 L664 72.5 L664.65 73.07 L665.3 73.57 L665.95 74.03 L666.6 74.5 L666.6 74.5 Z" fill="#417505"/>
<rect x="389" y="89.9" width="2.8" height="0.6" fill="#f5a623" opacity="0.85"/>
<rect x="447.3" y="90" width="3.3" height="0.5" fill="#f5a623" opacity="0.85"/>
<rect x="474" y="90" width="3.5" height="0.5" fill="#f5a623" opacity="0.85"/>
<rect x="499" y="90" width="4" height="0.5" fill="#f5a623" opacity="0.85"/>
<rect x="526" y="90" width="2.7" height="0.5" fill="#f5a623" opacity="0.85"/>
<rect x="536.6" y="89.9" width="6.4" height="0.6" fill="#f5a623" opacity="0.85"/>
<rect x="610.8" y="90" width="2.6" height="0.5" fill="#f5a623" opacity="0.85"/>
<rect x="672" y="89.2" width="3" height="1.3" fill="#f5a623" opacity="0.85"/>
<path d="M397.7 90.5 L397.7 90.5 L399.5 89.2 L401 90.5 L401 90.5 Z" fill="#f5a623"/>
<path d="M410.9 90.5 L410.9 90.5 L414 89.7 L414.57 89.69 L415.14 89.58 L415.71 89.3 L416.29 89.17 L416.86 89.04 L417.43 88.9 L418 88.7 L418.68 88.68 L419.35 88.55 L420.02 88.27 L420.7 88 L421.27 88.18 L421.85 88.49 L422.43 88.64 L423 88.7 L423.6 89.01 L424.2 89.25 L424.8 89.33 L425.4 89.44 L426 89.5 L428 89.3 L429 89.7 L431 89.9 L433.8 90.5 L433.8 90.5 Z" fill="#f5a623"/>
<path d="M460 90.5 L460 90.5 L462 89.9 L464 89.2 L466 89.5 L468 89.7 L469 90.5 L469 90.5 Z" fill="#f5a623"/>
<path d="M511 90.5 L511 90.5 L513 89.3 L513.65 89.08 L514.3 88.76 L514.95 88.2 L515.6 87.8 L516.2 88.34 L516.8 88.44 L517.4 88.63 L518 88.5 L518.6 88.91 L519.2 88.96 L519.8 89.13 L520.4 89.24 L521 89.4 L522.5 89.5 L524 90.5 L524 90.5 Z" fill="#f5a623"/>
<path d="M620 90.5 L620 90.5 L621.3 89.9 L621.86 89.54 L622.41 88.97 L622.97 88.51 L623.53 88.1 L624.09 87.62 L624.64 87.26 L625.2 86.6 L625.8 85.57 L626.4 84.46 L627 83.56 L627.6 82.45 L628.2 81.78 L628.8 80.21 L629.4 79.1 L629.97 82.07 L630.53 83.11 L631.1 83.9 L631.77 83.93 L632.43 83.91 L633.1 83.5 L633.77 85.05 L634.43 86.23 L635.1 87.2 L635.73 86.84 L636.37 86.9 L637 85.9 L637.67 87.92 L638.33 89.08 L639 90.5 L640.3 90.5 L640.95 88.98 L641.6 87.2 L642.27 86.43 L642.95 85.63 L643.62 85.04 L644.3 83.9 L644.93 84.59 L645.57 85.53 L646.2 85.2 L646.88 84.7 L647.55 83.92 L648.23 84.35 L648.9 82.6 L649.57 84.67 L650.23 85.78 L650.9 87.2 L651.5 89.9 L652.17 89.13 L652.83 88.11 L653.5 87.2 L654.06 86.97 L654.61 86.78 L655.17 86.22 L655.73 85.59 L656.29 84.67 L656.84 84.25 L657.4 83.3 L658.07 84.56 L658.73 86.12 L659.4 86.6 L660.05 86.47 L660.7 86.21 L661.35 85.38 L662 84.6 L662.67 85 L663.33 85.71 L664 85.2 L664.65 86.6 L665.3 87.09 L665.95 87.65 L666.6 87.9 L667.27 88.82 L667.93 89.38 L668.6 89.9 L670 90.5 L670 90.5 Z" fill="#f5a623"/>
<path d="M679 90.5 L679 90.5 L681 89 L681.67 88.7 L682.33 88.45 L683 87.9 L683.5 90.5 L683.5 90.5 Z" fill="#f5a623"/>
<rect x="387.2" y="105.5" width="4.6" height="0.8" fill="#4a90e2" opacity="0.3"/>
<rect x="397.7" y="105.5" width="7.9" height="0.8" fill="#4a90e2" opacity="0.3"/>
<rect x="410.9" y="105" width="3.9" height="1.3" fill="#4a90e2" opacity="0.85"/>
<rect x="436.5" y="105" width="3.9" height="1.3" fill="#4a90e2" opacity="0.85"/>
<rect x="460.1" y="104.8" width="2" height="1.5" fill="#4a90e2" opacity="0.85"/>
<rect x="492" y="105.3" width="4" height="1" fill="#4a90e2" opacity="0.5"/>
<rect x="618" y="105.7" width="6" height="0.6" fill="#4a90e2" opacity="0.5"/>
<rect x="626" y="105.5" width="1.8" height="0.8" fill="#4a90e2" opacity="0.85"/>
<rect x="659" y="104.7" width="6" height="1.6" fill="#4a90e2" opacity="0.85"/>
<rect x="673" y="105.3" width="2" height="1" fill="#4a90e2" opacity="0.85"/>
<rect x="679" y="105.3" width="4" height="1" fill="#4a90e2" opacity="0.85"/>
<path d="M416.8 106.3 L416.8 106.3 L420 104.8 L420.7 104.46 L421.4 103.9 L422 104.04 L422.6 104.18 L423.2 104.39 L423.8 104.51 L424.4 104.76 L425 104.7 L425.57 104.98 L426.14 104.89 L426.71 105.05 L427.29 105.1 L427.86 105.13 L428.43 105.04 L429 105 L434.5 106.3 L434.5 106.3 Z" fill="#4a90e2"/>
<path d="M627.8 106.3 L627.8 106.3 L628.4 105.09 L629 103.8 L630 100.3 L630.8 100.8 L631.5 103.17 L632.2 105.3 L632.6 106.3 L632.6 106.3 Z" fill="#4a90e2"/>
<path d="M632.6 106.3 L632.6 106.3 L633.5 103.8 L634.1 102.09 L634.7 100.1 L635.5 101.3 L636.15 103.4 L636.8 105.3 L637.2 106.3 L637.2 106.3 Z" fill="#4a90e2"/>
<path d="M638 106.3 L638 106.3 L640 104.8 L642 106.3 L642 106.3 Z" fill="#4a90e2"/>
<path d="M643.6 106.3 L643.6 106.3 L644.3 103.6 L645 100.3 L645.63 99.4 L646.27 97.53 L646.9 94.1 L647.7 96.97 L648.5 98.3 L649.25 101.37 L650 103.3 L650.75 104.56 L651.5 105.3 L653.5 105.8 L654 106.3 L654 106.3 Z" fill="#4a90e2"/>
<rect x="389" y="120.9" width="4" height="0.7" fill="#d0021b" opacity="0.15"/>
<rect x="406" y="120.9" width="11" height="0.7" fill="#d0021b" opacity="0.15"/>
<rect x="430.6" y="120.9" width="9.8" height="0.7" fill="#d0021b" opacity="0.15"/>
<rect x="465" y="120.9" width="1" height="0.7" fill="#d0021b" opacity="0.15"/>
<rect x="476" y="120.9" width="2" height="0.7" fill="#d0021b" opacity="0.15"/>
<rect x="482" y="120.9" width="5" height="0.7" fill="#d0021b" opacity="0.15"/>
<rect x="508" y="120.9" width="5" height="0.7" fill="#d0021b" opacity="0.15"/>
<rect x="514" y="120.9" width="10" height="0.7" fill="#d0021b" opacity="0.15"/>
<rect x="534.6" y="120.9" width="2" height="0.7" fill="#d0021b" opacity="0.15"/>
<rect x="548" y="120.9" width="3" height="0.7" fill="#d0021b" opacity="0.15"/>
<rect x="606.8" y="120.9" width="1.2" height="0.7" fill="#d0021b" opacity="0.15"/>
<rect x="622" y="120.9" width="6" height="0.7" fill="#d0021b" opacity="0.15"/>
<rect x="651.5" y="120.9" width="7.5" height="0.7" fill="#d0021b" opacity="0.15"/>
<rect x="672.5" y="120.9" width="1.5" height="0.7" fill="#d0021b" opacity="0.15"/>
<rect x="680" y="120.9" width="2" height="0.7" fill="#d0021b" opacity="0.15"/>
<rect x="417" y="121.1" width="6" height="0.5" fill="#d0021b" opacity="0.9"/>
<rect x="628.5" y="121.1" width="7.5" height="0.5" fill="#d0021b" opacity="0.6"/>
<path d="M420.3 121.6 L420.3 121.6 L421.4 116.9 L421.95 119.28 L422.5 121.6 L422.5 121.6 Z" fill="#d0021b"/>
<path d="M428 121.6 L428 121.6 L429.3 120.4 L430.6 121.6 L430.6 121.6 Z" fill="#d0021b"/>
<path d="M636 121.6 L636 121.6 L637 116.2 L638 121.6 L638 121.6 Z" fill="#d0021b"/>
<path d="M643 121.6 L643 121.6 L643.6 120.26 L644.2 118.6 L645.2 114.6 L646.2 113.3 L646.87 114.51 L647.53 114.34 L648.2 113.3 L649.2 115.1 L649.85 118.3 L650.5 120.6 L651 121.6 L651 121.6 Z" fill="#d0021b"/>
<path d="M660.7 121.6 L660.7 121.6 L661.37 120.55 L662.03 119.4 L662.7 118.2 L663.33 119.62 L663.97 120.53 L664.6 121.6 L664.6 121.6 Z" fill="#d0021b"/>
<rect x="379.3" y="125.4" width="304.7" height="5.2" fill="none" stroke="#6a6a6a" stroke-width="0.85" rx="0.6"/>
<text x="368.7" y="130.57" font-size="6.3" fill="#333" text-anchor="end" >chr5</text>
<line x1="379.89" y1="130.6" x2="379.89" y2="128.9" stroke="#444" stroke-width="0.75" />
<line x1="383.5" y1="130.6" x2="383.5" y2="127.4" stroke="#8a8a8a" stroke-width="0.8" />
<line x1="387.11" y1="130.6" x2="387.11" y2="128.9" stroke="#444" stroke-width="0.75" />
<line x1="390.72" y1="130.6" x2="390.72" y2="128.9" stroke="#444" stroke-width="0.75" />
<line x1="394.33" y1="130.6" x2="394.33" y2="128.9" stroke="#444" stroke-width="0.75" />
<line x1="397.94" y1="130.6" x2="397.94" y2="128.9" stroke="#444" stroke-width="0.75" />
<line x1="401.55" y1="130.6" x2="401.55" y2="128.9" stroke="#444" stroke-width="0.75" />
<line x1="405.16" y1="130.6" x2="405.16" y2="128.9" stroke="#444" stroke-width="0.75" />
<line x1="408.77" y1="130.6" x2="408.77" y2="128.9" stroke="#444" stroke-width="0.75" />
<line x1="412.38" y1="130.6" x2="412.38" y2="128.9" stroke="#444" stroke-width="0.75" />
<line x1="415.99" y1="130.6" x2="415.99" y2="128.9" stroke="#444" stroke-width="0.75" />
<line x1="419.6" y1="130.6" x2="419.6" y2="127.4" stroke="#8a8a8a" stroke-width="0.8" />
<line x1="423.21" y1="130.6" x2="423.21" y2="128.9" stroke="#444" stroke-width="0.75" />
<line x1="426.82" y1="130.6" x2="426.82" y2="128.9" stroke="#444" stroke-width="0.75" />
<line x1="430.43" y1="130.6" x2="430.43" y2="128.9" stroke="#444" stroke-width="0.75" />
<line x1="434.04" y1="130.6" x2="434.04" y2="128.9" stroke="#444" stroke-width="0.75" />
<line x1="437.65" y1="130.6" x2="437.65" y2="128.9" stroke="#444" stroke-width="0.75" />
<line x1="441.26" y1="130.6" x2="441.26" y2="128.9" stroke="#444" stroke-width="0.75" />
<line x1="444.87" y1="130.6" x2="444.87" y2="128.9" stroke="#444" stroke-width="0.75" />
<line x1="448.48" y1="130.6" x2="448.48" y2="128.9" stroke="#444" stroke-width="0.75" />
<line x1="452.09" y1="130.6" x2="452.09" y2="128.9" stroke="#444" stroke-width="0.75" />
<line x1="455.7" y1="130.6" x2="455.7" y2="127.4" stroke="#8a8a8a" stroke-width="0.8" />
<line x1="459.31" y1="130.6" x2="459.31" y2="128.9" stroke="#444" stroke-width="0.75" />
<line x1="462.92" y1="130.6" x2="462.92" y2="128.9" stroke="#444" stroke-width="0.75" />
<line x1="466.53" y1="130.6" x2="466.53" y2="128.9" stroke="#444" stroke-width="0.75" />
<line x1="470.14" y1="130.6" x2="470.14" y2="128.9" stroke="#444" stroke-width="0.75" />
<line x1="473.75" y1="130.6" x2="473.75" y2="128.9" stroke="#444" stroke-width="0.75" />
<line x1="477.36" y1="130.6" x2="477.36" y2="128.9" stroke="#444" stroke-width="0.75" />
<line x1="480.97" y1="130.6" x2="480.97" y2="128.9" stroke="#444" stroke-width="0.75" />
<line x1="484.58" y1="130.6" x2="484.58" y2="128.9" stroke="#444" stroke-width="0.75" />
<line x1="488.19" y1="130.6" x2="488.19" y2="128.9" stroke="#444" stroke-width="0.75" />
<line x1="491.8" y1="130.6" x2="491.8" y2="127.4" stroke="#8a8a8a" stroke-width="0.8" />
<line x1="495.41" y1="130.6" x2="495.41" y2="128.9" stroke="#444" stroke-width="0.75" />
<line x1="499.02" y1="130.6" x2="499.02" y2="128.9" stroke="#444" stroke-width="0.75" />
<line x1="502.63" y1="130.6" x2="502.63" y2="128.9" stroke="#444" stroke-width="0.75" />
<line x1="506.24" y1="130.6" x2="506.24" y2="128.9" stroke="#444" stroke-width="0.75" />
<line x1="509.85" y1="130.6" x2="509.85" y2="128.9" stroke="#444" stroke-width="0.75" />
<line x1="513.46" y1="130.6" x2="513.46" y2="128.9" stroke="#444" stroke-width="0.75" />
<line x1="517.07" y1="130.6" x2="517.07" y2="128.9" stroke="#444" stroke-width="0.75" />
<line x1="520.68" y1="130.6" x2="520.68" y2="128.9" stroke="#444" stroke-width="0.75" />
<line x1="524.29" y1="130.6" x2="524.29" y2="128.9" stroke="#444" stroke-width="0.75" />
<line x1="527.9" y1="130.6" x2="527.9" y2="127.4" stroke="#8a8a8a" stroke-width="0.8" />
<line x1="531.51" y1="130.6" x2="531.51" y2="128.9" stroke="#444" stroke-width="0.75" />
<line x1="535.12" y1="130.6" x2="535.12" y2="128.9" stroke="#444" stroke-width="0.75" />
<line x1="538.73" y1="130.6" x2="538.73" y2="128.9" stroke="#444" stroke-width="0.75" />
<line x1="542.34" y1="130.6" x2="542.34" y2="128.9" stroke="#444" stroke-width="0.75" />
<line x1="545.95" y1="130.6" x2="545.95" y2="128.9" stroke="#444" stroke-width="0.75" />
<line x1="549.56" y1="130.6" x2="549.56" y2="128.9" stroke="#444" stroke-width="0.75" />
<line x1="553.17" y1="130.6" x2="553.17" y2="128.9" stroke="#444" stroke-width="0.75" />
<line x1="556.78" y1="130.6" x2="556.78" y2="128.9" stroke="#444" stroke-width="0.75" />
<line x1="560.39" y1="130.6" x2="560.39" y2="128.9" stroke="#444" stroke-width="0.75" />
<line x1="564" y1="130.6" x2="564" y2="127.4" stroke="#8a8a8a" stroke-width="0.8" />
<line x1="567.61" y1="130.6" x2="567.61" y2="128.9" stroke="#444" stroke-width="0.75" />
<line x1="571.22" y1="130.6" x2="571.22" y2="128.9" stroke="#444" stroke-width="0.75" />
<line x1="574.83" y1="130.6" x2="574.83" y2="128.9" stroke="#444" stroke-width="0.75" />
<line x1="578.44" y1="130.6" x2="578.44" y2="128.9" stroke="#444" stroke-width="0.75" />
<line x1="582.05" y1="130.6" x2="582.05" y2="128.9" stroke="#444" stroke-width="0.75" />
<line x1="585.66" y1="130.6" x2="585.66" y2="128.9" stroke="#444" stroke-width="0.75" />
<line x1="589.27" y1="130.6" x2="589.27" y2="128.9" stroke="#444" stroke-width="0.75" />
<line x1="592.88" y1="130.6" x2="592.88" y2="128.9" stroke="#444" stroke-width="0.75" />
<line x1="596.49" y1="130.6" x2="596.49" y2="128.9" stroke="#444" stroke-width="0.75" />
<line x1="600.1" y1="130.6" x2="600.1" y2="127.4" stroke="#8a8a8a" stroke-width="0.8" />
<line x1="603.71" y1="130.6" x2="603.71" y2="128.9" stroke="#444" stroke-width="0.75" />
<line x1="607.32" y1="130.6" x2="607.32" y2="128.9" stroke="#444" stroke-width="0.75" />
<line x1="610.93" y1="130.6" x2="610.93" y2="128.9" stroke="#444" stroke-width="0.75" />
<line x1="614.54" y1="130.6" x2="614.54" y2="128.9" stroke="#444" stroke-width="0.75" />
<line x1="618.15" y1="130.6" x2="618.15" y2="128.9" stroke="#444" stroke-width="0.75" />
<line x1="621.76" y1="130.6" x2="621.76" y2="128.9" stroke="#444" stroke-width="0.75" />
<line x1="625.37" y1="130.6" x2="625.37" y2="128.9" stroke="#444" stroke-width="0.75" />
<line x1="628.98" y1="130.6" x2="628.98" y2="128.9" stroke="#444" stroke-width="0.75" />
<line x1="632.59" y1="130.6" x2="632.59" y2="128.9" stroke="#444" stroke-width="0.75" />
<line x1="636.2" y1="130.6" x2="636.2" y2="127.4" stroke="#8a8a8a" stroke-width="0.8" />
<line x1="639.81" y1="130.6" x2="639.81" y2="128.9" stroke="#444" stroke-width="0.75" />
<line x1="643.42" y1="130.6" x2="643.42" y2="128.9" stroke="#444" stroke-width="0.75" />
<line x1="647.03" y1="130.6" x2="647.03" y2="128.9" stroke="#444" stroke-width="0.75" />
<line x1="650.64" y1="130.6" x2="650.64" y2="128.9" stroke="#444" stroke-width="0.75" />
<line x1="654.25" y1="130.6" x2="654.25" y2="128.9" stroke="#444" stroke-width="0.75" />
<line x1="657.86" y1="130.6" x2="657.86" y2="128.9" stroke="#444" stroke-width="0.75" />
<line x1="661.47" y1="130.6" x2="661.47" y2="128.9" stroke="#444" stroke-width="0.75" />
<line x1="665.08" y1="130.6" x2="665.08" y2="128.9" stroke="#444" stroke-width="0.75" />
<line x1="668.69" y1="130.6" x2="668.69" y2="128.9" stroke="#444" stroke-width="0.75" />
<line x1="672.3" y1="130.6" x2="672.3" y2="127.4" stroke="#8a8a8a" stroke-width="0.8" />
<line x1="675.91" y1="130.6" x2="675.91" y2="128.9" stroke="#444" stroke-width="0.75" />
<line x1="679.52" y1="130.6" x2="679.52" y2="128.9" stroke="#444" stroke-width="0.75" />
<line x1="683.13" y1="130.6" x2="683.13" y2="128.9" stroke="#444" stroke-width="0.75" />
<text x="383.5" y="138.77" font-size="6.3" fill="#333" text-anchor="middle" textLength="26.72" lengthAdjust="spacingAndGlyphs" >150,040K</text>
<text x="419.6" y="138.77" font-size="6.3" fill="#333" text-anchor="middle" textLength="26.72" lengthAdjust="spacingAndGlyphs" >150,050K</text>
<text x="455.7" y="138.77" font-size="6.3" fill="#333" text-anchor="middle" textLength="26.72" lengthAdjust="spacingAndGlyphs" >150,060K</text>
<text x="491.8" y="138.77" font-size="6.3" fill="#333" text-anchor="middle" textLength="26.72" lengthAdjust="spacingAndGlyphs" >150,070K</text>
<text x="527.9" y="138.77" font-size="6.3" fill="#333" text-anchor="middle" textLength="26.72" lengthAdjust="spacingAndGlyphs" >150,080K</text>
<text x="564" y="138.77" font-size="6.3" fill="#333" text-anchor="middle" textLength="26.72" lengthAdjust="spacingAndGlyphs" >150,090K</text>
<text x="600.1" y="138.77" font-size="6.3" fill="#333" text-anchor="middle" textLength="25.13" lengthAdjust="spacingAndGlyphs" >150,100K</text>
<text x="636.2" y="138.77" font-size="6.3" fill="#333" text-anchor="middle" textLength="23.55" lengthAdjust="spacingAndGlyphs" >150,110K</text>
<text x="684.6" y="138.77" font-size="6.3" fill="#333" text-anchor="end" textLength="25.13" lengthAdjust="spacingAndGlyphs" >150,120K</text>
<text x="370" y="160.95" font-size="8.2" fill="#231f20" textLength="47.1" lengthAdjust="spacingAndGlyphs" >All isoforms</text>
<line x1="368.3" y1="164.9" x2="368.3" y2="250.2" stroke="#9a9a9a" stroke-width="0.6" />
<line x1="366.5" y1="174.4" x2="368.3" y2="174.4" stroke="#9a9a9a" stroke-width="0.6" />
<text x="364.4" y="176.56" font-size="6" fill="#444" text-anchor="end" textLength="13.31" lengthAdjust="spacingAndGlyphs" >0.04</text>
<line x1="366.5" y1="192.4" x2="368.3" y2="192.4" stroke="#9a9a9a" stroke-width="0.6" />
<text x="364.4" y="194.56" font-size="6" fill="#444" text-anchor="end" textLength="13.31" lengthAdjust="spacingAndGlyphs" >0.03</text>
<line x1="366.5" y1="210.5" x2="368.3" y2="210.5" stroke="#9a9a9a" stroke-width="0.6" />
<text x="364.4" y="212.66" font-size="6" fill="#444" text-anchor="end" textLength="13.31" lengthAdjust="spacingAndGlyphs" >0.02</text>
<line x1="366.5" y1="228.5" x2="368.3" y2="228.5" stroke="#9a9a9a" stroke-width="0.6" />
<text x="364.4" y="230.66" font-size="6" fill="#444" text-anchor="end" textLength="13.31" lengthAdjust="spacingAndGlyphs" >0.01</text>
<line x1="366.5" y1="246.3" x2="368.3" y2="246.3" stroke="#9a9a9a" stroke-width="0.6" />
<text x="364.4" y="248.46" font-size="6" fill="#444" text-anchor="end" textLength="3.8" lengthAdjust="spacingAndGlyphs" >0</text>
<line x1="368.3" y1="250.2" x2="483.8" y2="250.2" stroke="#9a9a9a" stroke-width="0.6" />
<line x1="389.2" y1="250.2" x2="389.2" y2="251.7" stroke="#9a9a9a" stroke-width="0.5" />
<line x1="425.5" y1="250.2" x2="425.5" y2="251.7" stroke="#9a9a9a" stroke-width="0.5" />
<line x1="461.8" y1="250.2" x2="461.8" y2="251.7" stroke="#9a9a9a" stroke-width="0.5" />
<rect x="379" y="245" width="10.4" height="1.4" fill="#e31a1c" stroke="#333" stroke-width="0.5"/>
<rect x="389.4" y="245.2" width="11.4" height="1.2" fill="#fb9a99" stroke="#333" stroke-width="0.5"/>
<rect x="414.9" y="242.6" width="10.8" height="3.7" fill="#e31a1c" stroke="#333" stroke-width="0.5"/>
<rect x="425.7" y="243.4" width="10.9" height="2.9" fill="#fb9a99" stroke="#333" stroke-width="0.5"/>
<rect x="451.3" y="191.9" width="10.5" height="54.4" fill="#e31a1c" stroke="#333" stroke-width="0.5"/>
<rect x="461.8" y="215.3" width="10.8" height="31" fill="#fb9a99" stroke="#333" stroke-width="0.5"/>
<circle cx="384.5" cy="246" r="1.1" fill="#000"/>
<circle cx="394.8" cy="246.2" r="1.1" fill="#000"/>
<circle cx="420.1" cy="241" r="1.1" fill="#000"/>
<circle cx="420.5" cy="245.3" r="1.1" fill="#000"/>
<circle cx="430.7" cy="243.4" r="1.1" fill="#000"/>
<circle cx="457.1" cy="169" r="1.1" fill="#000"/>
<circle cx="456.7" cy="183.5" r="1.1" fill="#000"/>
<circle cx="456.1" cy="187.8" r="1.1" fill="#000"/>
<circle cx="457.1" cy="207.7" r="1.1" fill="#000"/>
<circle cx="456.1" cy="210.9" r="1.1" fill="#000"/>
<circle cx="467.9" cy="197.7" r="1.1" fill="#000"/>
<circle cx="467.3" cy="209.3" r="1.1" fill="#000"/>
<circle cx="467.9" cy="224" r="1.1" fill="#000"/>
<circle cx="466.8" cy="228.9" r="1.1" fill="#000"/>
<text x="379" y="238.62" font-size="5.6" fill="#444" textLength="21.1" lengthAdjust="spacingAndGlyphs"><tspan font-style="italic">P</tspan> = 0.14</text>
<line x1="383.1" y1="241.6" x2="396.4" y2="241.6" stroke="#555" stroke-width="0.9" />
<text x="451.5" y="159.82" font-size="5.6" fill="#444" textLength="20.5" lengthAdjust="spacingAndGlyphs"><tspan font-style="italic">P</tspan> = 0.14</text>
<line x1="455.2" y1="163.4" x2="468.9" y2="163.4" stroke="#555" stroke-width="0.9" />
<text x="346.52" y="210.2" font-size="7" fill="#333" text-anchor="middle" transform="rotate(-90 344 210.2)" textLength="65.5" lengthAdjust="spacingAndGlyphs">Relative expression</text>
<text x="389.6" y="260.33" font-size="7.3" fill="#333" text-anchor="middle" textLength="18" lengthAdjust="spacingAndGlyphs" >hTSC</text>
<text x="425.6" y="260.33" font-size="7.3" fill="#333" text-anchor="middle" textLength="12.1" lengthAdjust="spacingAndGlyphs" >EVT</text>
<text x="461.8" y="260.33" font-size="7.3" fill="#333" text-anchor="middle" textLength="16.7" lengthAdjust="spacingAndGlyphs" >SynT</text>
<text x="526" y="160.35" font-size="8.2" fill="#231f20" textLength="68.1" lengthAdjust="spacingAndGlyphs" >Placenta-specific</text>
<line x1="523.3" y1="164.9" x2="523.3" y2="250.2" stroke="#9a9a9a" stroke-width="0.6" />
<line x1="521.5" y1="171.3" x2="523.3" y2="171.3" stroke="#9a9a9a" stroke-width="0.6" />
<text x="519.4" y="173.46" font-size="6" fill="#444" text-anchor="end" textLength="13.31" lengthAdjust="spacingAndGlyphs" >0.15</text>
<line x1="521.5" y1="196.1" x2="523.3" y2="196.1" stroke="#9a9a9a" stroke-width="0.6" />
<text x="519.4" y="198.26" font-size="6" fill="#444" text-anchor="end" textLength="13.31" lengthAdjust="spacingAndGlyphs" >0.10</text>
<line x1="521.5" y1="221.5" x2="523.3" y2="221.5" stroke="#9a9a9a" stroke-width="0.6" />
<text x="519.4" y="223.66" font-size="6" fill="#444" text-anchor="end" textLength="13.31" lengthAdjust="spacingAndGlyphs" >0.05</text>
<line x1="521.5" y1="246.3" x2="523.3" y2="246.3" stroke="#9a9a9a" stroke-width="0.6" />
<text x="519.4" y="248.46" font-size="6" fill="#444" text-anchor="end" textLength="3.8" lengthAdjust="spacingAndGlyphs" >0</text>
<line x1="523.3" y1="250.2" x2="638.8" y2="250.2" stroke="#9a9a9a" stroke-width="0.6" />
<line x1="545" y1="250.2" x2="545" y2="251.7" stroke="#9a9a9a" stroke-width="0.5" />
<line x1="580.8" y1="250.2" x2="580.8" y2="251.7" stroke="#9a9a9a" stroke-width="0.5" />
<line x1="617.5" y1="250.2" x2="617.5" y2="251.7" stroke="#9a9a9a" stroke-width="0.5" />
<rect x="534" y="244.7" width="11" height="1.7" fill="#e31a1c" stroke="#333" stroke-width="0.5"/>
<rect x="545" y="245.1" width="10.8" height="1.3" fill="#fb9a99" stroke="#333" stroke-width="0.5"/>
<rect x="570.2" y="238.2" width="10.5" height="8.1" fill="#e31a1c" stroke="#333" stroke-width="0.5"/>
<rect x="580.7" y="242.4" width="10.9" height="3.9" fill="#fb9a99" stroke="#333" stroke-width="0.5"/>
<rect x="606.3" y="185.3" width="10.8" height="61" fill="#e31a1c" stroke="#333" stroke-width="0.5"/>
<rect x="617.1" y="214.3" width="10.5" height="32" fill="#fb9a99" stroke="#333" stroke-width="0.5"/>
<circle cx="539.5" cy="245.5" r="1.1" fill="#000"/>
<circle cx="550.4" cy="245.8" r="1.1" fill="#000"/>
<circle cx="575.5" cy="237.2" r="1.1" fill="#000"/>
<circle cx="574.9" cy="240.3" r="1.1" fill="#000"/>
<circle cx="586.3" cy="242.8" r="1.1" fill="#000"/>
<circle cx="612.5" cy="169" r="1.1" fill="#000"/>
<circle cx="610.9" cy="173.3" r="1.1" fill="#000"/>
<circle cx="612.1" cy="187.2" r="1.1" fill="#000"/>
<circle cx="610.9" cy="195.2" r="1.1" fill="#000"/>
<circle cx="610.9" cy="201.1" r="1.1" fill="#000"/>
<circle cx="622.4" cy="200.6" r="1.1" fill="#000"/>
<circle cx="621.7" cy="209.3" r="1.1" fill="#000"/>
<circle cx="622" cy="213" r="1.1" fill="#000"/>
<circle cx="622.3" cy="221.7" r="1.1" fill="#000"/>
<text x="606.9" y="161.32" font-size="5.6" fill="#444" textLength="22" lengthAdjust="spacingAndGlyphs"><tspan font-style="italic">P</tspan> = 0.03</text>
<line x1="610.2" y1="164.5" x2="623.9" y2="164.5" stroke="#555" stroke-width="0.9" />
<text x="570.5" y="228.72" font-size="5.6" fill="#444" textLength="20.5" lengthAdjust="spacingAndGlyphs"><tspan font-style="italic">P</tspan> = 0.15</text>
<line x1="574.3" y1="232.3" x2="587.5" y2="232.3" stroke="#555" stroke-width="0.9" />
<text x="500.62" y="210.2" font-size="7" fill="#333" text-anchor="middle" transform="rotate(-90 498.1 210.2)" textLength="65.5" lengthAdjust="spacingAndGlyphs">Relative expression</text>
<text x="545" y="260.33" font-size="7.3" fill="#333" text-anchor="middle" textLength="18" lengthAdjust="spacingAndGlyphs" >hTSC</text>
<text x="580.8" y="260.33" font-size="7.3" fill="#333" text-anchor="middle" textLength="12.1" lengthAdjust="spacingAndGlyphs" >EVT</text>
<text x="617.5" y="260.33" font-size="7.3" fill="#333" text-anchor="middle" textLength="16.7" lengthAdjust="spacingAndGlyphs" >SynT</text>
<text x="648.9" y="158.38" font-size="6.6" fill="#333" textLength="27.8" lengthAdjust="spacingAndGlyphs" >sgRNAs:</text>
<rect x="648" y="164.4" width="6.6" height="6.4" fill="#e31a1c" stroke="#222" stroke-width="0.6"/>
<rect x="648" y="175.6" width="6.6" height="6.6" fill="#fb9a99" stroke="#222" stroke-width="0.6"/>
<text x="659.3" y="170.32" font-size="7" fill="#333" textLength="17.5" lengthAdjust="spacingAndGlyphs" >None</text>
<text x="659.3" y="181.52" font-size="7" fill="#333" textLength="24.7" lengthAdjust="spacingAndGlyphs" >LTR10A</text>
<text x="50.8" y="309.13" font-size="7.3" fill="#231f20" textLength="25.6" lengthAdjust="spacingAndGlyphs" stroke="#231f20" stroke-width="0.1">MER41B</text>
<rect x="81.3" y="303.7" width="2.8" height="5.3" fill="#333"/>
<text x="291" y="289.53" font-size="7.3" fill="#7a7a7a" textLength="6.2" lengthAdjust="spacingAndGlyphs" >P1</text>
<path d="M291.6 295.1 V292.2 H296.6 V295.1" fill="none" stroke="#777" stroke-width="0.6"/>
<line x1="289" y1="300.5" x2="301.8" y2="300.5" stroke="#33a02c" stroke-width="0.7" />
<rect x="289" y="298.3" width="4" height="4.4" fill="#33a02c"/>
<rect x="296" y="298.3" width="5.8" height="4.4" fill="#33a02c"/>
<line x1="274.4" y1="307.5" x2="301.8" y2="307.5" stroke="#33a02c" stroke-width="0.7" />
<rect x="274.55" y="305.4" width="1.3" height="4.2" fill="#33a02c"/>
<rect x="279.55" y="305.4" width="1.3" height="4.2" fill="#33a02c"/>
<path d="M290.4 304.5 L287.4 307.5 L290.4 310.5" fill="none" stroke="#33a02c" stroke-width="1"/>
<rect x="296" y="305.3" width="5.8" height="4.4" fill="#33a02c"/>
<text x="242.9" y="306.64" font-size="7.6" fill="#2f9a2a" textLength="23.3" lengthAdjust="spacingAndGlyphs" >TWIST1</text>
<line x1="0" y1="313.6" x2="313.9" y2="313.6" stroke="#ebebeb" stroke-width="1" />
<line x1="0" y1="329.2" x2="313.9" y2="329.2" stroke="#ebebeb" stroke-width="1" />
<line x1="0" y1="345.1" x2="313.9" y2="345.1" stroke="#ebebeb" stroke-width="1" />
<line x1="0" y1="361.3" x2="313.9" y2="361.3" stroke="#ebebeb" stroke-width="1" />
<line x1="0" y1="377.5" x2="313.9" y2="377.5" stroke="#ebebeb" stroke-width="1" />
<path d="M41.1 314.6 H42.7 V327.3 H41.1" fill="none" stroke="#6e6e6e" stroke-width="0.55"/>
<text x="28.2" y="323.6" font-size="6.1" fill="#417505" text-anchor="end" opacity="0.85">H3K4me3</text>
<text x="40.3" y="317.04" font-size="4" fill="#666" text-anchor="end" >15</text>
<text x="40.3" y="328.04" font-size="4" fill="#666" text-anchor="end" >0</text>
<path d="M41.1 330.2 H42.7 V343.2 H41.1" fill="none" stroke="#6e6e6e" stroke-width="0.55"/>
<text x="28.2" y="339.35" font-size="6.1" fill="#f5a623" text-anchor="end" opacity="0.85">H3K4me1</text>
<text x="40.3" y="332.64" font-size="4" fill="#666" text-anchor="end" >3.2</text>
<text x="40.3" y="343.94" font-size="4" fill="#666" text-anchor="end" >0</text>
<path d="M41.1 346.1 H42.7 V359.4 H41.1" fill="none" stroke="#6e6e6e" stroke-width="0.55"/>
<text x="28.2" y="355.4" font-size="6.1" fill="#4a90e2" text-anchor="end" opacity="0.85">H3K27ac</text>
<text x="40.3" y="348.54" font-size="4" fill="#666" text-anchor="end" >9</text>
<text x="40.3" y="360.14" font-size="4" fill="#666" text-anchor="end" >0</text>
<path d="M41.1 362.3 H42.7 V375.6 H41.1" fill="none" stroke="#6e6e6e" stroke-width="0.55"/>
<text x="28.2" y="371.6" font-size="6.1" fill="#d0021b" text-anchor="end" opacity="0.85">JUN</text>
<text x="40.3" y="364.74" font-size="4" fill="#666" text-anchor="end" >41</text>
<text x="40.3" y="376.34" font-size="4" fill="#666" text-anchor="end" >0</text>
<rect x="72.2" y="327.4" width="13.1" height="1" fill="#417505" opacity="0.3"/>
<rect x="164.4" y="327.7" width="5.9" height="0.7" fill="#417505" opacity="0.26"/>
<rect x="177.6" y="327.7" width="5.9" height="0.7" fill="#417505" opacity="0.26"/>
<rect x="193.3" y="327.7" width="7.7" height="0.7" fill="#417505" opacity="0.26"/>
<rect x="214.6" y="327.7" width="3.9" height="0.7" fill="#417505" opacity="0.22"/>
<rect x="270" y="327.7" width="3.4" height="0.7" fill="#417505" opacity="0.22"/>
<path d="M201 328.4 L201 328.4 L203.2 327.2 L205 328.4 L205 328.4 Z" fill="#417505"/>
<path d="M230.9 328.4 L230.9 328.4 L234 327.4 L237.1 326.9 L240 327.4 L242.5 328.4 L242.5 328.4 Z" fill="#417505"/>
<path d="M287.4 328.4 L287.4 328.4 L288.02 328.07 L288.64 327.76 L289.26 327.33 L289.88 326.98 L290.5 326.5 L291.25 325.05 L292 322.4 L292.75 320.66 L293.5 316.9 L294.3 315.7 L294.9 316.05 L295.5 315.96 L296.1 316.01 L296.7 315.7 L297.43 317.74 L298.17 317.75 L298.9 316.4 L299.7 315.95 L300.5 314.9 L301.07 317.88 L301.65 319.34 L302.23 320.01 L302.8 320.4 L303.42 321.98 L304.04 323.29 L304.66 324.09 L305.28 325.21 L305.9 326.4 L306.52 326.95 L307.14 327.11 L307.76 327.34 L308.38 327.65 L309 327.8 L312.9 328.4 L312.9 328.4 Z" fill="#417505"/>
<path d="M59.7 344.3 L59.7 344.3 L61 342.8 L61.75 342.39 L62.5 341.7 L63.25 342.41 L64 342.5 L64.75 342.56 L65.5 342.1 L66.2 342.72 L66.9 343.28 L67.6 343.8 L69 343.5 L69.67 343.16 L70.33 342.76 L71 342.3 L71.63 341.88 L72.27 341.1 L72.9 340.3 L73.7 338.7 L74.5 336.3 L75.3 335.49 L76.1 334.3 L76.65 336.61 L77.2 336.3 L78.1 341.3 L78.75 341 L79.4 340.3 L80.07 339.26 L80.73 338.07 L81.4 336 L82.2 338.61 L83 339.3 L84 342.3 L84.65 343.09 L85.3 343.7 L94.5 343.8 L94.6 344.3 L94.6 344.3 Z" fill="#f5a623"/>
<path d="M132.9 344.3 L132.9 344.3 L135 343 L136.5 342.8 L138.1 344.3 L138.1 344.3 Z" fill="#f5a623"/>
<path d="M158.5 344.3 L158.5 344.3 L159.25 343.32 L160 342 L160.56 342.18 L161.11 342.2 L161.67 342.19 L162.22 342.01 L162.78 342.16 L163.33 342.07 L163.89 342 L164.44 342.29 L165 342 L165.68 341.67 L166.35 341.43 L167.02 341.21 L167.7 340.4 L168.35 341.38 L169 341.8 L169.65 342.74 L170.3 343.5 L175 343.5 L176 344.3 L176 344.3 Z" fill="#f5a623"/>
<path d="M176.3 344.3 L176.3 344.3 L178 343 L180 343 L180.8 341.3 L181.37 340.33 L181.93 339.14 L182.5 337.3 L183.3 337.22 L184.1 335.1 L184.73 336.3 L185.37 337.87 L186 338.3 L186.7 340.46 L187.4 342.3 L188.2 342.63 L189 342.8 L189.65 342.92 L190.3 342.78 L190.95 342.73 L191.6 342.5 L192.2 341.45 L192.8 340.29 L193.4 338.59 L194 336.7 L194.67 338.98 L195.33 340.44 L196 341.8 L196.75 341.78 L197.5 341.3 L198.6 335.7 L199.3 337.81 L200 338.3 L200.56 337.45 L201.12 336.29 L201.68 334.94 L202.24 334.52 L202.8 331.4 L203.53 334.44 L204.27 336.3 L205 336.8 L206 340.3 L206.67 340.96 L207.33 340.59 L208 340.5 L208.67 340.69 L209.33 340.79 L210 340 L210.6 340.7 L211.2 340.37 L211.8 340.5 L212.4 340.82 L213 340.7 L213.64 339.34 L214.28 338.11 L214.92 336.53 L215.56 336.01 L216.2 333.6 L216.95 337.83 L217.7 340.2 L218.5 340.45 L219.3 339.4 L219.9 341.42 L220.5 343.3 L221.6 344.3 L222.3 343.46 L223 342.4 L223.67 342.6 L224.33 342.44 L225 342.4 L225.65 341.98 L226.3 340.8 L226.98 341.76 L227.65 341.89 L228.32 342.6 L229 342.8 L229.63 342.12 L230.27 341.38 L230.9 340.3 L231.6 341.07 L232.3 341.12 L233 340.8 L233.62 340.53 L234.25 340.34 L234.88 340.06 L235.5 339.3 L236.1 339.03 L236.7 338.34 L237.3 337.92 L237.9 337 L238.6 339.26 L239.3 340.21 L240 341.8 L240.57 342.78 L241.13 343.53 L241.7 344.3 L241.7 344.3 Z" fill="#f5a623"/>
<rect x="243.3" y="343.5" width="6.9" height="0.8" fill="#f5a623" opacity="0.85"/>
<rect x="254" y="343.8" width="2.4" height="0.5" fill="#f5a623" opacity="0.85"/>
<rect x="259.5" y="343.5" width="3.9" height="0.8" fill="#f5a623" opacity="0.85"/>
<rect x="280.4" y="343.7" width="2.3" height="0.6" fill="#f5a623" opacity="0.85"/>
<path d="M270.3 344.3 L270.3 344.3 L270.97 343.67 L271.63 343.1 L272.3 342.4 L272.93 343.16 L273.57 343.72 L274.2 344.3 L274.2 344.3 Z" fill="#f5a623"/>
<path d="M285.8 344.3 L285.8 344.3 L286 343.3 L286.6 343.15 L287.2 343.19 L287.8 343.01 L288.4 342.91 L289 342.53 L289.6 342.42 L290.2 342.19 L290.8 342.3 L291.4 341.97 L292 341.7 L292.57 341.64 L293.14 341.66 L293.71 341.79 L294.29 341.64 L294.86 341.26 L295.43 341.09 L296 340.9 L296.62 341.3 L297.23 341 L297.85 340.97 L298.47 340.49 L299.08 340.35 L299.7 340.2 L300.25 340.89 L300.8 340.98 L301.35 341.04 L301.9 341.72 L302.45 341.81 L303 341.8 L303.67 342.09 L304.33 341.77 L305 341.7 L305.6 341.8 L306.2 341.13 L306.8 341.28 L307.4 340.78 L308 340.2 L308.59 340.06 L309.17 339.86 L309.76 339.82 L310.34 338.9 L310.93 338.4 L311.51 338.43 L312.1 337.5 L312.8 338.63 L313.5 339.3 L313.9 344.3 L313.9 344.3 Z" fill="#f5a623"/>
<path d="M72.2 360.4 L72.2 360.4 L72.78 359.42 L73.35 358.45 L73.92 357.42 L74.5 356.4 L75.17 353.4 L75.83 350.46 L76.5 346.7 L77.25 349.6 L78 351.4 L78.6 353.6 L79.23 352.7 L79.87 350.16 L80.5 347.7 L81.25 350.88 L82 352.4 L82.7 354.81 L83.4 356.9 L84.04 357.76 L84.68 358.31 L85.32 359.06 L85.96 359.7 L86.6 360.4 L86.6 360.4 Z" fill="#4a90e2"/>
<rect x="120" y="359.9" width="5.4" height="0.5" fill="#4a90e2" opacity="0.85"/>
<rect x="142" y="359.7" width="4" height="0.7" fill="#4a90e2" opacity="0.85"/>
<rect x="168.3" y="359.7" width="6.7" height="0.7" fill="#4a90e2" opacity="0.85"/>
<path d="M128 360.4 L128 360.4 L128.67 359.87 L129.33 359.31 L130 358.6 L130.8 359.53 L131.6 360.4 L131.6 360.4 Z" fill="#4a90e2"/>
<path d="M198.6 360.4 L198.6 360.4 L201 358.9 L201.6 358.92 L202.2 358.95 L202.8 358.63 L203.4 358.75 L204 358.4 L204.6 358.63 L205.2 358.74 L205.8 358.93 L206.4 358.9 L207 358.9 L209.1 360.4 L209.1 360.4 Z" fill="#4a90e2"/>
<path d="M235.5 360.4 L235.5 360.4 L238 358.9 L241.7 360.4 L241.7 360.4 Z" fill="#4a90e2"/>
<path d="M265.7 360.4 L265.7 360.4 L266.3 359.88 L266.9 359.39 L267.5 358.7 L268.2 359.44 L268.9 359.86 L269.6 360.4 L269.6 360.4 Z" fill="#4a90e2"/>
<path d="M298.2 360.4 L298.2 360.4 L298.76 360.11 L299.32 359.8 L299.88 359.48 L300.44 359.13 L301 358.7 L301.6 359.02 L302.2 359.2 L302.8 359.45 L303.4 359.68 L304 359.97 L304.6 360.17 L305.2 360.4 L305.2 360.4 Z" fill="#4a90e2"/>
<rect x="68.9" y="375.8" width="15.1" height="0.5" fill="#d0021b" opacity="0.8"/>
<path d="M74 376.3 L74 376.3 L74.7 375.78 L75.4 375.25 L76.1 374.7 L76.73 375.38 L77.37 375.84 L78 376.3 L78 376.3 Z" fill="#d0021b"/>
<rect x="194.6" y="375.7" width="13.2" height="0.6" fill="#d0021b" opacity="0.22"/>
<rect x="213.9" y="375.7" width="5.4" height="0.6" fill="#d0021b" opacity="0.19"/>
<rect x="234" y="375.7" width="3" height="0.6" fill="#d0021b" opacity="0.19"/>
<rect x="241.7" y="375.7" width="6.2" height="0.6" fill="#d0021b" opacity="0.19"/>
<rect x="297.4" y="375.7" width="14" height="0.6" fill="#d0021b" opacity="0.19"/>
<path d="M203 376.3 L203 376.3 L204.5 375.5 L206 376.3 L206 376.3 Z" fill="#d0021b"/>
<rect x="42.9" y="379.3" width="271" height="5.3" fill="none" stroke="#6a6a6a" stroke-width="0.85" rx="0.6"/>
<text x="35.9" y="384.52" font-size="6.3" fill="#333" text-anchor="end" >chr7</text>
<line x1="45.56" y1="384.6" x2="45.56" y2="382.9" stroke="#444" stroke-width="0.75" />
<line x1="51.4" y1="384.6" x2="51.4" y2="382.9" stroke="#444" stroke-width="0.75" />
<line x1="57.24" y1="384.6" x2="57.24" y2="382.9" stroke="#444" stroke-width="0.75" />
<line x1="63.08" y1="384.6" x2="63.08" y2="382.9" stroke="#444" stroke-width="0.75" />
<line x1="68.92" y1="384.6" x2="68.92" y2="382.9" stroke="#444" stroke-width="0.75" />
<line x1="74.76" y1="384.6" x2="74.76" y2="382.9" stroke="#444" stroke-width="0.75" />
<line x1="80.6" y1="384.6" x2="80.6" y2="381.4" stroke="#8a8a8a" stroke-width="0.8" />
<line x1="86.44" y1="384.6" x2="86.44" y2="382.9" stroke="#444" stroke-width="0.75" />
<line x1="92.28" y1="384.6" x2="92.28" y2="382.9" stroke="#444" stroke-width="0.75" />
<line x1="98.12" y1="384.6" x2="98.12" y2="382.9" stroke="#444" stroke-width="0.75" />
<line x1="103.96" y1="384.6" x2="103.96" y2="382.9" stroke="#444" stroke-width="0.75" />
<line x1="109.8" y1="384.6" x2="109.8" y2="382.9" stroke="#444" stroke-width="0.75" />
<line x1="115.64" y1="384.6" x2="115.64" y2="382.9" stroke="#444" stroke-width="0.75" />
<line x1="121.48" y1="384.6" x2="121.48" y2="382.9" stroke="#444" stroke-width="0.75" />
<line x1="127.32" y1="384.6" x2="127.32" y2="382.9" stroke="#444" stroke-width="0.75" />
<line x1="133.16" y1="384.6" x2="133.16" y2="382.9" stroke="#444" stroke-width="0.75" />
<line x1="139" y1="384.6" x2="139" y2="381.4" stroke="#8a8a8a" stroke-width="0.8" />
<line x1="144.84" y1="384.6" x2="144.84" y2="382.9" stroke="#444" stroke-width="0.75" />
<line x1="150.68" y1="384.6" x2="150.68" y2="382.9" stroke="#444" stroke-width="0.75" />
<line x1="156.52" y1="384.6" x2="156.52" y2="382.9" stroke="#444" stroke-width="0.75" />
<line x1="162.36" y1="384.6" x2="162.36" y2="382.9" stroke="#444" stroke-width="0.75" />
<line x1="168.2" y1="384.6" x2="168.2" y2="382.9" stroke="#444" stroke-width="0.75" />
<line x1="174.04" y1="384.6" x2="174.04" y2="382.9" stroke="#444" stroke-width="0.75" />
<line x1="179.88" y1="384.6" x2="179.88" y2="382.9" stroke="#444" stroke-width="0.75" />
<line x1="185.72" y1="384.6" x2="185.72" y2="382.9" stroke="#444" stroke-width="0.75" />
<line x1="191.56" y1="384.6" x2="191.56" y2="382.9" stroke="#444" stroke-width="0.75" />
<line x1="197.4" y1="384.6" x2="197.4" y2="381.4" stroke="#8a8a8a" stroke-width="0.8" />
<line x1="203.24" y1="384.6" x2="203.24" y2="382.9" stroke="#444" stroke-width="0.75" />
<line x1="209.08" y1="384.6" x2="209.08" y2="382.9" stroke="#444" stroke-width="0.75" />
<line x1="214.92" y1="384.6" x2="214.92" y2="382.9" stroke="#444" stroke-width="0.75" />
<line x1="220.76" y1="384.6" x2="220.76" y2="382.9" stroke="#444" stroke-width="0.75" />
<line x1="226.6" y1="384.6" x2="226.6" y2="382.9" stroke="#444" stroke-width="0.75" />
<line x1="232.44" y1="384.6" x2="232.44" y2="382.9" stroke="#444" stroke-width="0.75" />
<line x1="238.28" y1="384.6" x2="238.28" y2="382.9" stroke="#444" stroke-width="0.75" />
<line x1="244.12" y1="384.6" x2="244.12" y2="382.9" stroke="#444" stroke-width="0.75" />
<line x1="249.96" y1="384.6" x2="249.96" y2="382.9" stroke="#444" stroke-width="0.75" />
<line x1="255.8" y1="384.6" x2="255.8" y2="381.4" stroke="#8a8a8a" stroke-width="0.8" />
<line x1="261.64" y1="384.6" x2="261.64" y2="382.9" stroke="#444" stroke-width="0.75" />
<line x1="267.48" y1="384.6" x2="267.48" y2="382.9" stroke="#444" stroke-width="0.75" />
<line x1="273.32" y1="384.6" x2="273.32" y2="382.9" stroke="#444" stroke-width="0.75" />
<line x1="279.16" y1="384.6" x2="279.16" y2="382.9" stroke="#444" stroke-width="0.75" />
<line x1="285" y1="384.6" x2="285" y2="382.9" stroke="#444" stroke-width="0.75" />
<line x1="290.84" y1="384.6" x2="290.84" y2="382.9" stroke="#444" stroke-width="0.75" />
<line x1="296.68" y1="384.6" x2="296.68" y2="382.9" stroke="#444" stroke-width="0.75" />
<line x1="302.52" y1="384.6" x2="302.52" y2="382.9" stroke="#444" stroke-width="0.75" />
<line x1="308.36" y1="384.6" x2="308.36" y2="382.9" stroke="#444" stroke-width="0.75" />
<text x="80.6" y="392.97" font-size="6.3" fill="#333" text-anchor="middle" textLength="22.94" lengthAdjust="spacingAndGlyphs" >19,080K</text>
<text x="139" y="392.97" font-size="6.3" fill="#333" text-anchor="middle" textLength="22.94" lengthAdjust="spacingAndGlyphs" >19,090K</text>
<text x="197.4" y="392.97" font-size="6.3" fill="#333" text-anchor="middle" textLength="21.35" lengthAdjust="spacingAndGlyphs" >19,100K</text>
<text x="255.8" y="392.97" font-size="6.3" fill="#333" text-anchor="middle" textLength="19.76" lengthAdjust="spacingAndGlyphs" >19,110K</text>
<text x="45.5" y="410.53" font-size="8.7" fill="#231f20" textLength="7.3" lengthAdjust="spacingAndGlyphs" >P1</text>
<line x1="43.5" y1="414.7" x2="43.5" y2="498.2" stroke="#9a9a9a" stroke-width="0.6" />
<line x1="41.7" y1="422" x2="43.5" y2="422" stroke="#9a9a9a" stroke-width="0.6" />
<text x="39.6" y="424" font-size="5.6" fill="#444" text-anchor="end" textLength="20.5" lengthAdjust="spacingAndGlyphs">8 × 10<tspan font-size="3.6" dy="-2">−4</tspan></text>
<line x1="41.7" y1="440.3" x2="43.5" y2="440.3" stroke="#9a9a9a" stroke-width="0.6" />
<text x="39.6" y="442.3" font-size="5.6" fill="#444" text-anchor="end" textLength="20.5" lengthAdjust="spacingAndGlyphs">6 × 10<tspan font-size="3.6" dy="-2">−4</tspan></text>
<line x1="41.7" y1="458.4" x2="43.5" y2="458.4" stroke="#9a9a9a" stroke-width="0.6" />
<text x="39.6" y="460.4" font-size="5.6" fill="#444" text-anchor="end" textLength="20.5" lengthAdjust="spacingAndGlyphs">4 × 10<tspan font-size="3.6" dy="-2">−4</tspan></text>
<line x1="41.7" y1="476.6" x2="43.5" y2="476.6" stroke="#9a9a9a" stroke-width="0.6" />
<text x="39.6" y="478.6" font-size="5.6" fill="#444" text-anchor="end" textLength="20.5" lengthAdjust="spacingAndGlyphs">2 × 10<tspan font-size="3.6" dy="-2">−4</tspan></text>
<line x1="41.7" y1="494.5" x2="43.5" y2="494.5" stroke="#9a9a9a" stroke-width="0.6" />
<text x="40.1" y="496.66" font-size="6" fill="#444" text-anchor="end" >0</text>
<line x1="43.5" y1="498.2" x2="98.5" y2="498.2" stroke="#9a9a9a" stroke-width="0.6" />
<line x1="58.4" y1="498.2" x2="58.4" y2="499.7" stroke="#9a9a9a" stroke-width="0.5" />
<line x1="83.5" y1="498.2" x2="83.5" y2="499.7" stroke="#9a9a9a" stroke-width="0.5" />
<rect x="50.4" y="453.1" width="15.6" height="41.4" fill="#33a02c" stroke="#333" stroke-width="0.5"/>
<rect x="75.9" y="460.7" width="15.6" height="33.8" fill="#b2df8a" stroke="#333" stroke-width="0.5"/>
<circle cx="57.4" cy="419" r="1.1" fill="#000"/>
<circle cx="58.1" cy="418.4" r="1.1" fill="#000"/>
<circle cx="56.9" cy="446.4" r="1.1" fill="#000"/>
<circle cx="56.9" cy="457.6" r="1.1" fill="#000"/>
<circle cx="59.1" cy="461" r="1.1" fill="#000"/>
<circle cx="59.9" cy="461.7" r="1.1" fill="#000"/>
<circle cx="60.1" cy="469.7" r="1.1" fill="#000"/>
<circle cx="56.2" cy="481.8" r="1.1" fill="#000"/>
<circle cx="82.5" cy="436.3" r="1.1" fill="#000"/>
<circle cx="83.5" cy="437.6" r="1.1" fill="#000"/>
<circle cx="81.5" cy="450.9" r="1.1" fill="#000"/>
<circle cx="83.2" cy="470.9" r="1.1" fill="#000"/>
<circle cx="85.4" cy="470.4" r="1.1" fill="#000"/>
<circle cx="84.7" cy="472.6" r="1.1" fill="#000"/>
<circle cx="85.7" cy="477.3" r="1.1" fill="#000"/>
<text x="15.12" y="459.5" font-size="7" fill="#333" text-anchor="middle" transform="rotate(-90 12.6 459.5)" textLength="65.5" lengthAdjust="spacingAndGlyphs">Relative expression</text>
<text x="17" y="507.08" font-size="6.6" fill="#333" textLength="27.4" lengthAdjust="spacingAndGlyphs" >sgRNAs:</text>
<text x="0" y="0" font-size="7" fill="#333" text-anchor="end" textLength="18.6" lengthAdjust="spacingAndGlyphs" transform="translate(60.4 505.6) rotate(-45)">None</text>
<text x="0" y="0" font-size="7" fill="#333" text-anchor="end" textLength="27.5" lengthAdjust="spacingAndGlyphs" transform="translate(86.6 505.6) rotate(-45)">MER41B</text>
<text x="456.5" y="287.75" font-size="6.8" fill="#7a7a7a" textLength="7" lengthAdjust="spacingAndGlyphs" >P1</text>
<path d="M455.3 294.1 V291.2 H464.1 V294.1" fill="none" stroke="#777" stroke-width="0.6"/>
<text x="432.4" y="300.76" font-size="7.1" fill="#f68b2c" textLength="18" lengthAdjust="spacingAndGlyphs" >PSG5</text>
<line x1="455" y1="298.5" x2="527.5" y2="298.5" stroke="#ff7f00" stroke-width="0.75" />
<rect x="455.1" y="297.2" width="1.8" height="2.6" fill="#ff7f00"/>
<rect x="464.05" y="296.6" width="0.9" height="3.8" fill="#ff7f00"/>
<rect x="484.15" y="296.6" width="0.9" height="3.8" fill="#ff7f00"/>
<rect x="486.35" y="296.6" width="0.9" height="3.8" fill="#ff7f00"/>
<rect x="521.25" y="296.6" width="0.9" height="3.8" fill="#ff7f00"/>
<rect x="526.85" y="296.6" width="0.9" height="3.8" fill="#ff7f00"/>
<path d="M515.1 296 L512.6 298.5 L515.1 301" fill="none" stroke="#ff7f00" stroke-width="0.9"/>
<text x="485" y="311.44" font-size="7.6" fill="#231f20" textLength="21.1" lengthAdjust="spacingAndGlyphs" stroke="#231f20" stroke-width="0.1">LTR8B</text>
<rect x="510.6" y="305.8" width="2" height="5" fill="#333"/>
<rect x="583.7" y="305" width="2" height="5" fill="#aaa"/>
<rect x="673.3" y="305.4" width="2.5" height="5.2" fill="#aaa"/>
<line x1="551.6" y1="290.5" x2="602" y2="290.5" stroke="#6a12b0" stroke-width="0.8"  stroke-dasharray="3 1"/>
<rect x="551.5" y="289.5" width="3.4" height="2" fill="#6a12b0"/>
<rect x="554.95" y="289.1" width="0.9" height="2.8" fill="#6a12b0"/>
<rect x="557.7" y="289.1" width="1" height="2.8" fill="#6a12b0"/>
<rect x="594.5" y="289.1" width="1.2" height="2.8" fill="#6a12b0"/>
<rect x="601.15" y="289.6" width="0.9" height="1.8" fill="#6a12b0"/>
<line x1="551.6" y1="295.5" x2="602" y2="295.5" stroke="#6a12b0" stroke-width="0.8"  stroke-dasharray="3 1"/>
<rect x="551.5" y="294.5" width="3.4" height="2" fill="#6a12b0"/>
<rect x="554.95" y="294.1" width="0.9" height="2.8" fill="#6a12b0"/>
<rect x="557.7" y="294.1" width="1" height="2.8" fill="#6a12b0"/>
<rect x="594.5" y="294.1" width="1.2" height="2.8" fill="#6a12b0"/>
<rect x="601.15" y="294.6" width="0.9" height="1.8" fill="#6a12b0"/>
<line x1="551.6" y1="300.5" x2="602" y2="300.5" stroke="#6a12b0" stroke-width="0.8"  stroke-dasharray="3 1"/>
<rect x="551.5" y="299.5" width="3.4" height="2" fill="#6a12b0"/>
<rect x="554.95" y="299.1" width="0.9" height="2.8" fill="#6a12b0"/>
<rect x="557.7" y="299.1" width="1" height="2.8" fill="#6a12b0"/>
<rect x="594.5" y="299.1" width="1.2" height="2.8" fill="#6a12b0"/>
<rect x="601.15" y="299.6" width="0.9" height="1.8" fill="#6a12b0"/>
<rect x="559.9" y="289.1" width="1" height="2.8" fill="#6a12b0"/>
<rect x="559.9" y="294.1" width="1" height="2.8" fill="#6a12b0"/>
<rect x="571.55" y="294.1" width="0.9" height="2.8" fill="#6a12b0"/>
<rect x="571.55" y="299.1" width="0.9" height="2.8" fill="#6a12b0"/>
<text x="605" y="297.89" font-size="5.8" fill="#8447c8" textLength="14.9" lengthAdjust="spacingAndGlyphs" >PSG4</text>
<line x1="337" y1="313.8" x2="684" y2="313.8" stroke="#ebebeb" stroke-width="1" />
<line x1="337" y1="329.4" x2="684" y2="329.4" stroke="#ebebeb" stroke-width="1" />
<line x1="337" y1="345.1" x2="684" y2="345.1" stroke="#ebebeb" stroke-width="1" />
<line x1="337" y1="361.1" x2="684" y2="361.1" stroke="#ebebeb" stroke-width="1" />
<line x1="337" y1="377.4" x2="684" y2="377.4" stroke="#ebebeb" stroke-width="1" />
<path d="M378 314.8 H379.6 V327.5 H378" fill="none" stroke="#6e6e6e" stroke-width="0.55"/>
<text x="365" y="323.8" font-size="6.1" fill="#417505" text-anchor="end" opacity="0.85">H3K4me3</text>
<text x="377.2" y="317.24" font-size="4" fill="#666" text-anchor="end" >5</text>
<text x="377.2" y="328.24" font-size="4" fill="#666" text-anchor="end" >0</text>
<path d="M378 330.4 H379.6 V343.2 H378" fill="none" stroke="#6e6e6e" stroke-width="0.55"/>
<text x="365" y="339.45" font-size="6.1" fill="#f5a623" text-anchor="end" opacity="0.85">H3K4me1</text>
<text x="377.2" y="332.84" font-size="4" fill="#666" text-anchor="end" >16</text>
<text x="377.2" y="343.94" font-size="4" fill="#666" text-anchor="end" >0</text>
<path d="M378 346.1 H379.6 V359.2 H378" fill="none" stroke="#6e6e6e" stroke-width="0.55"/>
<text x="365" y="355.3" font-size="6.1" fill="#4a90e2" text-anchor="end" opacity="0.85">H3K27ac</text>
<text x="377.2" y="348.54" font-size="4" fill="#666" text-anchor="end" >21</text>
<text x="377.2" y="359.94" font-size="4" fill="#666" text-anchor="end" >0</text>
<path d="M378 362.1 H379.6 V375.5 H378" fill="none" stroke="#6e6e6e" stroke-width="0.55"/>
<text x="365" y="371.45" font-size="6.1" fill="#d0021b" text-anchor="end" opacity="0.85">JUN</text>
<text x="377.2" y="364.54" font-size="4" fill="#666" text-anchor="end" >41</text>
<text x="377.2" y="376.24" font-size="4" fill="#666" text-anchor="end" >0</text>
<rect x="380" y="327.8" width="2" height="0.6" fill="#417505" opacity="0.26"/>
<rect x="404.3" y="327.8" width="2.7" height="0.6" fill="#417505" opacity="0.26"/>
<rect x="435.8" y="327.4" width="5.2" height="1" fill="#417505" opacity="0.26"/>
<rect x="443.7" y="327.8" width="4.6" height="0.6" fill="#417505" opacity="0.26"/>
<rect x="457" y="327.8" width="4" height="0.6" fill="#417505" opacity="0.26"/>
<rect x="465" y="327.8" width="2.6" height="0.6" fill="#417505" opacity="0.26"/>
<rect x="474.9" y="327.8" width="3.9" height="0.6" fill="#417505" opacity="0.26"/>
<rect x="481.4" y="327.8" width="5.9" height="0.6" fill="#417505" opacity="0.26"/>
<rect x="494.6" y="327.8" width="11.1" height="0.6" fill="#417505" opacity="0.26"/>
<rect x="531.4" y="327.6" width="3.9" height="0.8" fill="#417505" opacity="0.7"/>
<rect x="549" y="327.8" width="4" height="0.6" fill="#417505" opacity="0.26"/>
<rect x="574.3" y="327.8" width="2" height="0.6" fill="#417505" opacity="0.26"/>
<rect x="583" y="327.8" width="24.8" height="0.6" fill="#417505" opacity="0.26"/>
<rect x="621.6" y="327.8" width="8.4" height="0.6" fill="#417505" opacity="0.26"/>
<rect x="657" y="327.8" width="3" height="0.6" fill="#417505" opacity="0.26"/>
<rect x="662" y="327.8" width="3" height="0.6" fill="#417505" opacity="0.26"/>
<rect x="667" y="327.8" width="2" height="0.6" fill="#417505" opacity="0.26"/>
<path d="M507 328.4 L507 328.4 L507.57 328.12 L508.14 327.8 L508.71 327.49 L509.29 327.2 L509.86 326.94 L510.43 326.56 L511 326.2 L511.66 325.61 L512.32 324.76 L512.98 324.51 L513.64 323.84 L514.3 322.2 L514.97 322.51 L515.65 321.96 L516.33 322.52 L517 321.2 L517.63 320.89 L518.27 320.29 L518.9 319.1 L519.53 318.14 L520.17 317.85 L520.8 316.2 L521.47 318.02 L522.13 318.96 L522.8 319.1 L523.5 316.2 L524.15 319.25 L524.8 321.7 L525.47 320.43 L526.13 317.78 L526.8 315.8 L527.43 316.59 L528.07 316.51 L528.7 316.6 L529.35 322.41 L530 327.4 L530.7 328.4 L530.7 328.4 Z" fill="#417505"/>
<path d="M590 328.4 L590 328.4 L594.7 326.9 L598 328.4 L598 328.4 Z" fill="#417505"/>
<path d="M380 344.3 L380 344.3 L380.6 335.3 L381.25 334.62 L381.9 333.8 L382.6 335.33 L383.3 336.8 L383.9 343.8 L384.5 343.3 L385.8 343.3 L386.2 343.8 L386.5 339.9 L387.17 340.11 L387.83 340.06 L388.5 339.9 L389 343.5 L389.8 340.3 L390.48 340.54 L391.15 340.36 L391.82 340.38 L392.5 339.7 L393.5 340.3 L394.08 340.81 L394.66 340.94 L395.24 341.12 L395.82 340.92 L396.4 340.8 L397 343.8 L399 343.8 L399.7 343.8 L400.5 341.8 L401.25 341.69 L402 341.3 L402.3 343.8 L404.3 343.8 L405 342.3 L405.65 340.13 L406.3 336.4 L407.3 340.3 L408.2 344.3 L408.2 344.3 Z" fill="#f5a623"/>
<rect x="409.6" y="343.7" width="1.9" height="0.6" fill="#f5a623" opacity="0.9"/>
<rect x="424" y="343.5" width="2" height="0.8" fill="#f5a623" opacity="0.9"/>
<rect x="549.1" y="343" width="2.2" height="1.3" fill="#f5a623" opacity="0.9"/>
<rect x="570.4" y="343.3" width="2.6" height="1" fill="#f5a623" opacity="0.9"/>
<rect x="574.3" y="343" width="2" height="1.3" fill="#f5a623" opacity="0.9"/>
<rect x="599.3" y="343" width="3.9" height="1.3" fill="#f5a623" opacity="0.9"/>
<rect x="651.9" y="342.8" width="3" height="1.5" fill="#f5a623" opacity="0.9"/>
<rect x="658.7" y="343.3" width="4.3" height="1" fill="#f5a623" opacity="0.9"/>
<rect x="668.5" y="343.5" width="1.5" height="0.8" fill="#f5a623" opacity="0.9"/>
<rect x="671.5" y="343.5" width="1.5" height="0.8" fill="#f5a623" opacity="0.9"/>
<path d="M415.5 344.3 L415.5 344.3 L416 343.3 L416.62 342.84 L417.25 342.53 L417.88 342.06 L418.5 341.3 L419.23 340.66 L419.97 340.55 L420.7 339.3 L421.45 340.87 L422.2 341.3 L422.7 344.3 L422.7 344.3 Z" fill="#f5a623"/>
<path d="M428 344.3 L428 344.3 L428.6 339.3 L429.27 340.19 L429.93 340.65 L430.6 340.6 L431.23 339.95 L431.87 338.14 L432.5 336.7 L433.17 337.12 L433.83 336.88 L434.5 336 L435.15 337.98 L435.8 338 L436.47 340.5 L437.13 342.19 L437.8 343.8 L438.4 343.8 L439.07 341.22 L439.73 338.9 L440.4 335.1 L440.95 338.42 L441.5 340.3 L442.4 341.3 L443.07 340.27 L443.73 338.46 L444.4 336.7 L445.03 338.93 L445.67 341.17 L446.3 343.3 L447 343.5 L447.67 342.23 L448.33 340.76 L449 339.3 L449.67 338.84 L450.33 337.38 L451 335.4 L451.6 336.56 L452.2 336 L452.87 339.32 L453.53 341.83 L454.2 344.3 L454.2 344.3 Z" fill="#f5a623"/>
<path d="M458.2 344.3 L458.2 344.3 L458.85 343.19 L459.5 341.9 L460.12 342.2 L460.75 342.73 L461.38 342.98 L462 343.1 L462.62 343.08 L463.25 342.97 L463.88 342.89 L464.5 342.6 L465.23 342.06 L465.97 341.8 L466.7 340.9 L467.35 341.71 L468 342.3 L469 344.3 L469 344.3 Z" fill="#f5a623"/>
<path d="M474.9 344.3 L474.9 344.3 L476 343.5 L477 343.3 L477.8 344.3 L477.8 344.3 Z" fill="#f5a623"/>
<path d="M478 344.3 L478 344.3 L478.67 343.48 L479.33 342.7 L480 341.8 L480.68 340.9 L481.35 339.27 L482.02 338.53 L482.7 336.4 L483.37 338.84 L484.03 339.66 L484.7 340.7 L485.37 340.33 L486.03 339.81 L486.7 338.8 L487.37 340.35 L488.03 341.35 L488.7 342 L489.33 342.62 L489.97 343.01 L490.6 343.3 L491.3 344.3 L491.3 344.3 Z" fill="#f5a623"/>
<path d="M496.5 344.3 L496.5 344.3 L497.17 343.54 L497.83 342.8 L498.5 342 L499.15 341.13 L499.8 340.51 L500.45 339.26 L501.1 338 L501.73 339.78 L502.37 340.67 L503 342 L503.7 343.16 L504.4 344.3 L504.4 344.3 Z" fill="#f5a623"/>
<path d="M507 344.3 L507 344.3 L507.67 343.34 L508.33 342.52 L509 341.3 L509.67 340.65 L510.33 339.66 L511 338 L511.67 338.71 L512.33 339.32 L513 339.3 L513.67 340.1 L514.33 340.54 L515 340.7 L515.67 341.62 L516.33 342.7 L517 343.3 L517.6 343.7 L518.23 342.11 L518.87 340.98 L519.5 338.7 L520.16 339.76 L520.82 339.23 L521.48 339.83 L522.14 340.34 L522.8 340 L523.45 339.67 L524.1 338.13 L524.75 336.81 L525.4 335.3 L526 336.57 L526.6 337.3 L527.2 335.86 L527.8 331.4 L528.45 335.02 L529.1 338 L529.9 340.08 L530.7 341.3 L531.35 342.59 L532 343.8 L532.7 344.3 L533.33 342.77 L533.97 341.47 L534.6 339.3 L535.27 340.06 L535.93 341.11 L536.6 341.3 L537.27 342.46 L537.93 343.44 L538.6 344.3 L538.6 344.3 Z" fill="#f5a623"/>
<path d="M578.9 344.3 L578.9 344.3 L580.2 343.3 L580.86 343.13 L581.52 342.72 L582.18 342.62 L582.84 342.2 L583.5 341.7 L584.16 341.63 L584.82 341.54 L585.48 341.68 L586.14 341.59 L586.8 341.3 L587.47 340.49 L588.13 339.41 L588.8 338.3 L589.43 339.76 L590.07 340.88 L590.7 341.9 L591.5 341.1 L592.3 339.3 L592.87 340.4 L593.43 341.84 L594 342.6 L594.65 341.88 L595.3 340.4 L595.97 341.59 L596.63 342.91 L597.3 343.8 L598 344.3 L598 344.3 Z" fill="#f5a623"/>
<path d="M605.2 344.3 L605.2 344.3 L606 341.7 L606.56 342 L607.11 342.08 L607.67 341.82 L608.22 341.85 L608.78 341.86 L609.33 342.12 L609.89 341.95 L610.44 341.85 L611 341.7 L611.8 344.3 L611.8 344.3 Z" fill="#f5a623"/>
<path d="M673.7 344.3 L673.7 344.3 L676 343.3 L676.67 342.9 L677.33 342.39 L678 341.8 L678.57 342.65 L679.13 343.48 L679.7 344.3 L679.7 344.3 Z" fill="#f5a623"/>
<rect x="386" y="359.8" width="2" height="0.5" fill="#4a90e2" opacity="0.85"/>
<rect x="390.5" y="359.7" width="5.2" height="0.6" fill="#4a90e2" opacity="0.85"/>
<rect x="426" y="359.7" width="2" height="0.6" fill="#4a90e2" opacity="0.85"/>
<rect x="446.3" y="359.8" width="15.7" height="0.5" fill="#4a90e2" opacity="0.85"/>
<rect x="465" y="359.8" width="3" height="0.5" fill="#4a90e2" opacity="0.85"/>
<rect x="484" y="359.8" width="2.7" height="0.5" fill="#4a90e2" opacity="0.85"/>
<rect x="499.8" y="359.5" width="3.3" height="0.8" fill="#4a90e2" opacity="0.85"/>
<rect x="600.6" y="359.7" width="2.6" height="0.6" fill="#4a90e2" opacity="0.85"/>
<rect x="651.5" y="359.7" width="3" height="0.6" fill="#4a90e2" opacity="0.85"/>
<rect x="671.5" y="359.3" width="6.7" height="1" fill="#4a90e2" opacity="0.85"/>
<path d="M379.3 360.3 L379.3 360.3 L381 358.8 L381.67 358.91 L382.33 358.68 L383 358.5 L383.73 359.28 L384.47 359.72 L385.2 360.3 L385.2 360.3 Z" fill="#4a90e2"/>
<path d="M429.9 360.3 L429.9 360.3 L432 359 L432.57 358.93 L433.14 358.87 L433.71 358.67 L434.29 358.59 L434.86 358.65 L435.43 358.52 L436 358.1 L436.6 358.1 L437.2 357.74 L437.8 357.59 L438.4 356.8 L439.07 356.93 L439.73 356.26 L440.4 355.4 L441.07 356.52 L441.73 356.7 L442.4 357.3 L443.07 358.09 L443.73 358.44 L444.4 358.8 L446.3 359.8 L447 360.3 L447 360.3 Z" fill="#4a90e2"/>
<path d="M507 360.3 L507 360.3 L507.68 359.95 L508.35 359.58 L509.02 359.15 L509.7 358.7 L510.35 358.24 L511 358.13 L511.65 357.34 L512.3 356.8 L512.97 356.23 L513.63 355.29 L514.3 354.1 L514.97 355.41 L515.63 356.71 L516.3 357.3 L516.95 357.35 L517.6 356.47 L518.25 356.27 L518.9 355.3 L519.53 356.18 L520.17 356.96 L520.8 357.3 L521.47 357.65 L522.15 357.72 L522.83 357.89 L523.5 358 L524.15 357.74 L524.8 357.3 L525.47 357.85 L526.13 357.78 L526.8 357.7 L527.45 358.18 L528.1 358.76 L528.75 359.12 L529.4 359.3 L533.3 360.3 L533.3 360.3 Z" fill="#4a90e2"/>
<path d="M580.9 360.3 L580.9 360.3 L581.48 359.88 L582.05 359.42 L582.62 358.99 L583.2 358.5 L583.8 357.74 L584.4 357.09 L585 356.1 L585.62 355.69 L586.24 355.34 L586.86 354.89 L587.48 354.74 L588.1 353.7 L588.73 355.49 L589.37 356.25 L590 356.7 L590.57 357.39 L591.13 357.84 L591.7 358.33 L592.27 358.73 L592.83 359.18 L593.4 359.6 L594.7 359 L597 359 L598 360.3 L598 360.3 Z" fill="#4a90e2"/>
<rect x="379.3" y="375.7" width="6.6" height="0.6" fill="#d0021b" opacity="0.19"/>
<rect x="395" y="375.7" width="4" height="0.6" fill="#d0021b" opacity="0.19"/>
<rect x="404.3" y="375.7" width="4.7" height="0.6" fill="#d0021b" opacity="0.19"/>
<rect x="447.6" y="375.7" width="7.4" height="0.6" fill="#d0021b" opacity="0.5"/>
<rect x="465" y="375.7" width="6" height="0.6" fill="#d0021b" opacity="0.19"/>
<rect x="480" y="375.7" width="12" height="0.6" fill="#d0021b" opacity="0.19"/>
<rect x="494" y="375.7" width="13" height="0.6" fill="#d0021b" opacity="0.19"/>
<rect x="545" y="375.7" width="10" height="0.6" fill="#d0021b" opacity="0.19"/>
<rect x="570.4" y="375.7" width="5.9" height="0.6" fill="#d0021b" opacity="0.19"/>
<rect x="600.6" y="375.7" width="2.6" height="0.6" fill="#d0021b" opacity="0.19"/>
<rect x="607.8" y="375.7" width="4" height="0.6" fill="#d0021b" opacity="0.19"/>
<rect x="615" y="375.7" width="4.6" height="0.6" fill="#d0021b" opacity="0.19"/>
<rect x="650.4" y="375.7" width="3" height="0.6" fill="#d0021b" opacity="0.19"/>
<rect x="666.2" y="375.7" width="4.5" height="0.6" fill="#d0021b" opacity="0.19"/>
<rect x="516.3" y="375.7" width="19.7" height="0.6" fill="#d0021b" opacity="0.85"/>
<rect x="670.7" y="375.3" width="6" height="1" fill="#d0021b" opacity="0.85"/>
<path d="M430.6 376.3 L430.6 376.3 L431.2 375.76 L431.8 375.25 L432.4 374.91 L433 374.1 L433.6 374.07 L434.2 374.13 L434.8 374.11 L435.4 374.13 L436 373.7 L436.6 373.63 L437.2 373.49 L437.8 373.2 L438.43 373.42 L439.07 373.59 L439.7 373.5 L440.27 374.12 L440.85 374.69 L441.43 375.05 L442 375.3 L444 375.8 L447.6 376.3 L447.6 376.3 Z" fill="#d0021b"/>
<path d="M507 376.3 L507 376.3 L507.6 375.87 L508.2 375.3 L508.8 374.81 L509.4 374.53 L510 373.8 L510.8 373.52 L511.6 372.3 L512.23 373.07 L512.87 373.58 L513.5 373.8 L514.06 374.2 L514.62 374.71 L515.18 375.19 L515.74 375.52 L516.3 375.8 L516.5 376.3 L516.5 376.3 Z" fill="#d0021b"/>
<path d="M581.5 376.3 L581.5 376.3 L582.08 375.57 L582.66 374.88 L583.24 373.88 L583.82 373 L584.4 372.1 L585.05 372.74 L585.7 373.46 L586.35 374.03 L587 374.3 L587.6 374.92 L588.2 375.19 L588.8 375.52 L589.4 375.8 L591 376.3 L591 376.3 Z" fill="#d0021b"/>
<rect x="380" y="379.4" width="303.5" height="5.4" fill="none" stroke="#6a6a6a" stroke-width="0.85" rx="0.6"/>
<text x="373" y="384.67" font-size="6.3" fill="#333" text-anchor="end" >chr19</text>
<line x1="382.24" y1="384.8" x2="382.24" y2="383.1" stroke="#444" stroke-width="0.75" />
<line x1="386.1" y1="384.8" x2="386.1" y2="381.6" stroke="#8a8a8a" stroke-width="0.8" />
<line x1="389.96" y1="384.8" x2="389.96" y2="383.1" stroke="#444" stroke-width="0.75" />
<line x1="393.81" y1="384.8" x2="393.81" y2="383.1" stroke="#444" stroke-width="0.75" />
<line x1="397.67" y1="384.8" x2="397.67" y2="383.1" stroke="#444" stroke-width="0.75" />
<line x1="401.53" y1="384.8" x2="401.53" y2="383.1" stroke="#444" stroke-width="0.75" />
<line x1="405.39" y1="384.8" x2="405.39" y2="383.1" stroke="#444" stroke-width="0.75" />
<line x1="409.24" y1="384.8" x2="409.24" y2="383.1" stroke="#444" stroke-width="0.75" />
<line x1="413.1" y1="384.8" x2="413.1" y2="383.1" stroke="#444" stroke-width="0.75" />
<line x1="416.96" y1="384.8" x2="416.96" y2="383.1" stroke="#444" stroke-width="0.75" />
<line x1="420.81" y1="384.8" x2="420.81" y2="383.1" stroke="#444" stroke-width="0.75" />
<line x1="424.67" y1="384.8" x2="424.67" y2="381.6" stroke="#8a8a8a" stroke-width="0.8" />
<line x1="428.53" y1="384.8" x2="428.53" y2="383.1" stroke="#444" stroke-width="0.75" />
<line x1="432.38" y1="384.8" x2="432.38" y2="383.1" stroke="#444" stroke-width="0.75" />
<line x1="436.24" y1="384.8" x2="436.24" y2="383.1" stroke="#444" stroke-width="0.75" />
<line x1="440.1" y1="384.8" x2="440.1" y2="383.1" stroke="#444" stroke-width="0.75" />
<line x1="443.96" y1="384.8" x2="443.96" y2="383.1" stroke="#444" stroke-width="0.75" />
<line x1="447.81" y1="384.8" x2="447.81" y2="383.1" stroke="#444" stroke-width="0.75" />
<line x1="451.67" y1="384.8" x2="451.67" y2="383.1" stroke="#444" stroke-width="0.75" />
<line x1="455.53" y1="384.8" x2="455.53" y2="383.1" stroke="#444" stroke-width="0.75" />
<line x1="459.38" y1="384.8" x2="459.38" y2="383.1" stroke="#444" stroke-width="0.75" />
<line x1="463.24" y1="384.8" x2="463.24" y2="381.6" stroke="#8a8a8a" stroke-width="0.8" />
<line x1="467.1" y1="384.8" x2="467.1" y2="383.1" stroke="#444" stroke-width="0.75" />
<line x1="470.95" y1="384.8" x2="470.95" y2="383.1" stroke="#444" stroke-width="0.75" />
<line x1="474.81" y1="384.8" x2="474.81" y2="383.1" stroke="#444" stroke-width="0.75" />
<line x1="478.67" y1="384.8" x2="478.67" y2="383.1" stroke="#444" stroke-width="0.75" />
<line x1="482.53" y1="384.8" x2="482.53" y2="383.1" stroke="#444" stroke-width="0.75" />
<line x1="486.38" y1="384.8" x2="486.38" y2="383.1" stroke="#444" stroke-width="0.75" />
<line x1="490.24" y1="384.8" x2="490.24" y2="383.1" stroke="#444" stroke-width="0.75" />
<line x1="494.1" y1="384.8" x2="494.1" y2="383.1" stroke="#444" stroke-width="0.75" />
<line x1="497.95" y1="384.8" x2="497.95" y2="383.1" stroke="#444" stroke-width="0.75" />
<line x1="501.81" y1="384.8" x2="501.81" y2="381.6" stroke="#8a8a8a" stroke-width="0.8" />
<line x1="505.67" y1="384.8" x2="505.67" y2="383.1" stroke="#444" stroke-width="0.75" />
<line x1="509.52" y1="384.8" x2="509.52" y2="383.1" stroke="#444" stroke-width="0.75" />
<line x1="513.38" y1="384.8" x2="513.38" y2="383.1" stroke="#444" stroke-width="0.75" />
<line x1="517.24" y1="384.8" x2="517.24" y2="383.1" stroke="#444" stroke-width="0.75" />
<line x1="521.1" y1="384.8" x2="521.1" y2="383.1" stroke="#444" stroke-width="0.75" />
<line x1="524.95" y1="384.8" x2="524.95" y2="383.1" stroke="#444" stroke-width="0.75" />
<line x1="528.81" y1="384.8" x2="528.81" y2="383.1" stroke="#444" stroke-width="0.75" />
<line x1="532.67" y1="384.8" x2="532.67" y2="383.1" stroke="#444" stroke-width="0.75" />
<line x1="536.52" y1="384.8" x2="536.52" y2="383.1" stroke="#444" stroke-width="0.75" />
<line x1="540.38" y1="384.8" x2="540.38" y2="381.6" stroke="#8a8a8a" stroke-width="0.8" />
<line x1="544.24" y1="384.8" x2="544.24" y2="383.1" stroke="#444" stroke-width="0.75" />
<line x1="548.09" y1="384.8" x2="548.09" y2="383.1" stroke="#444" stroke-width="0.75" />
<line x1="551.95" y1="384.8" x2="551.95" y2="383.1" stroke="#444" stroke-width="0.75" />
<line x1="555.81" y1="384.8" x2="555.81" y2="383.1" stroke="#444" stroke-width="0.75" />
<line x1="559.66" y1="384.8" x2="559.66" y2="383.1" stroke="#444" stroke-width="0.75" />
<line x1="563.52" y1="384.8" x2="563.52" y2="383.1" stroke="#444" stroke-width="0.75" />
<line x1="567.38" y1="384.8" x2="567.38" y2="383.1" stroke="#444" stroke-width="0.75" />
<line x1="571.24" y1="384.8" x2="571.24" y2="383.1" stroke="#444" stroke-width="0.75" />
<line x1="575.09" y1="384.8" x2="575.09" y2="383.1" stroke="#444" stroke-width="0.75" />
<line x1="578.95" y1="384.8" x2="578.95" y2="381.6" stroke="#8a8a8a" stroke-width="0.8" />
<line x1="582.81" y1="384.8" x2="582.81" y2="383.1" stroke="#444" stroke-width="0.75" />
<line x1="586.66" y1="384.8" x2="586.66" y2="383.1" stroke="#444" stroke-width="0.75" />
<line x1="590.52" y1="384.8" x2="590.52" y2="383.1" stroke="#444" stroke-width="0.75" />
<line x1="594.38" y1="384.8" x2="594.38" y2="383.1" stroke="#444" stroke-width="0.75" />
<line x1="598.24" y1="384.8" x2="598.24" y2="383.1" stroke="#444" stroke-width="0.75" />
<line x1="602.09" y1="384.8" x2="602.09" y2="383.1" stroke="#444" stroke-width="0.75" />
<line x1="605.95" y1="384.8" x2="605.95" y2="383.1" stroke="#444" stroke-width="0.75" />
<line x1="609.81" y1="384.8" x2="609.81" y2="383.1" stroke="#444" stroke-width="0.75" />
<line x1="613.66" y1="384.8" x2="613.66" y2="383.1" stroke="#444" stroke-width="0.75" />
<line x1="617.52" y1="384.8" x2="617.52" y2="381.6" stroke="#8a8a8a" stroke-width="0.8" />
<line x1="621.38" y1="384.8" x2="621.38" y2="383.1" stroke="#444" stroke-width="0.75" />
<line x1="625.23" y1="384.8" x2="625.23" y2="383.1" stroke="#444" stroke-width="0.75" />
<line x1="629.09" y1="384.8" x2="629.09" y2="383.1" stroke="#444" stroke-width="0.75" />
<line x1="632.95" y1="384.8" x2="632.95" y2="383.1" stroke="#444" stroke-width="0.75" />
<line x1="636.81" y1="384.8" x2="636.81" y2="383.1" stroke="#444" stroke-width="0.75" />
<line x1="640.66" y1="384.8" x2="640.66" y2="383.1" stroke="#444" stroke-width="0.75" />
<line x1="644.52" y1="384.8" x2="644.52" y2="383.1" stroke="#444" stroke-width="0.75" />
<line x1="648.38" y1="384.8" x2="648.38" y2="383.1" stroke="#444" stroke-width="0.75" />
<line x1="652.23" y1="384.8" x2="652.23" y2="383.1" stroke="#444" stroke-width="0.75" />
<line x1="656.09" y1="384.8" x2="656.09" y2="381.6" stroke="#8a8a8a" stroke-width="0.8" />
<line x1="659.95" y1="384.8" x2="659.95" y2="383.1" stroke="#444" stroke-width="0.75" />
<line x1="663.8" y1="384.8" x2="663.8" y2="383.1" stroke="#444" stroke-width="0.75" />
<line x1="667.66" y1="384.8" x2="667.66" y2="383.1" stroke="#444" stroke-width="0.75" />
<line x1="671.52" y1="384.8" x2="671.52" y2="383.1" stroke="#444" stroke-width="0.75" />
<line x1="675.38" y1="384.8" x2="675.38" y2="383.1" stroke="#444" stroke-width="0.75" />
<line x1="679.23" y1="384.8" x2="679.23" y2="383.1" stroke="#444" stroke-width="0.75" />
<text x="386.1" y="392.47" font-size="6.3" fill="#333" text-anchor="middle" textLength="22.94" lengthAdjust="spacingAndGlyphs" >43,150K</text>
<text x="424.67" y="392.47" font-size="6.3" fill="#333" text-anchor="middle" textLength="22.94" lengthAdjust="spacingAndGlyphs" >43,160K</text>
<text x="463.24" y="392.47" font-size="6.3" fill="#333" text-anchor="middle" textLength="22.94" lengthAdjust="spacingAndGlyphs" >43,170K</text>
<text x="501.81" y="392.47" font-size="6.3" fill="#333" text-anchor="middle" textLength="22.94" lengthAdjust="spacingAndGlyphs" >43,180K</text>
<text x="540.38" y="392.47" font-size="6.3" fill="#333" text-anchor="middle" textLength="22.94" lengthAdjust="spacingAndGlyphs" >43,190K</text>
<text x="578.95" y="392.47" font-size="6.3" fill="#333" text-anchor="middle" textLength="24.52" lengthAdjust="spacingAndGlyphs" >43,200K</text>
<text x="617.52" y="392.47" font-size="6.3" fill="#333" text-anchor="middle" textLength="22.94" lengthAdjust="spacingAndGlyphs" >43,210K</text>
<text x="656.09" y="392.47" font-size="6.3" fill="#333" text-anchor="middle" textLength="24.52" lengthAdjust="spacingAndGlyphs" >43,220K</text>
<text x="371.9" y="415.13" font-size="8.7" fill="#231f20" textLength="7.7" lengthAdjust="spacingAndGlyphs" >P1</text>
<line x1="370.7" y1="420.6" x2="370.7" y2="505.5" stroke="#9a9a9a" stroke-width="0.6" />
<line x1="368.9" y1="427.6" x2="370.7" y2="427.6" stroke="#9a9a9a" stroke-width="0.6" />
<text x="366.8" y="429.76" font-size="6" fill="#444" text-anchor="end" textLength="9.51" lengthAdjust="spacingAndGlyphs" >2.0</text>
<line x1="368.9" y1="446.4" x2="370.7" y2="446.4" stroke="#9a9a9a" stroke-width="0.6" />
<text x="366.8" y="448.56" font-size="6" fill="#444" text-anchor="end" textLength="9.51" lengthAdjust="spacingAndGlyphs" >1.5</text>
<line x1="368.9" y1="464.6" x2="370.7" y2="464.6" stroke="#9a9a9a" stroke-width="0.6" />
<text x="366.8" y="466.76" font-size="6" fill="#444" text-anchor="end" textLength="9.51" lengthAdjust="spacingAndGlyphs" >1.0</text>
<line x1="368.9" y1="483.4" x2="370.7" y2="483.4" stroke="#9a9a9a" stroke-width="0.6" />
<text x="366.8" y="485.56" font-size="6" fill="#444" text-anchor="end" textLength="9.51" lengthAdjust="spacingAndGlyphs" >0.5</text>
<line x1="368.9" y1="502" x2="370.7" y2="502" stroke="#9a9a9a" stroke-width="0.6" />
<text x="366.8" y="504.16" font-size="6" fill="#444" text-anchor="end" textLength="3.8" lengthAdjust="spacingAndGlyphs" >0</text>
<line x1="370.7" y1="505.5" x2="488.6" y2="505.5" stroke="#9a9a9a" stroke-width="0.6" />
<line x1="393.2" y1="505.5" x2="393.2" y2="507" stroke="#9a9a9a" stroke-width="0.5" />
<line x1="429.7" y1="505.5" x2="429.7" y2="507" stroke="#9a9a9a" stroke-width="0.5" />
<line x1="466.6" y1="505.5" x2="466.6" y2="507" stroke="#9a9a9a" stroke-width="0.5" />
<rect x="381.9" y="500.8" width="11.3" height="1.3" fill="#ff7f00" stroke="#333" stroke-width="0.5"/>
<rect x="393.2" y="500.8" width="11.1" height="1.3" fill="#fdbf6f" stroke="#333" stroke-width="0.5"/>
<rect x="418.9" y="490.7" width="11.1" height="11.3" fill="#ff7f00" stroke="#333" stroke-width="0.5"/>
<rect x="430" y="497.4" width="10.9" height="4.6" fill="#fdbf6f" stroke="#333" stroke-width="0.5"/>
<rect x="455.3" y="443.3" width="11.7" height="58.7" fill="#ff7f00" stroke="#333" stroke-width="0.5"/>
<rect x="467" y="468.6" width="10.7" height="33.4" fill="#fdbf6f" stroke="#333" stroke-width="0.5"/>
<circle cx="387.6" cy="501.3" r="1.1" fill="#000"/>
<circle cx="398.9" cy="500.8" r="1.1" fill="#000"/>
<circle cx="424" cy="482.6" r="1.1" fill="#000"/>
<circle cx="424.9" cy="485.9" r="1.1" fill="#000"/>
<circle cx="424.4" cy="493.6" r="1.1" fill="#000"/>
<circle cx="423.3" cy="497.9" r="1.1" fill="#000"/>
<circle cx="424.6" cy="496" r="1.1" fill="#000"/>
<circle cx="436" cy="497" r="1.1" fill="#000"/>
<circle cx="461.3" cy="424.4" r="1.1" fill="#000"/>
<circle cx="460.4" cy="428.4" r="1.1" fill="#000"/>
<circle cx="461.3" cy="447.7" r="1.1" fill="#000"/>
<circle cx="461.3" cy="454" r="1.1" fill="#000"/>
<circle cx="461.3" cy="462.6" r="1.1" fill="#000"/>
<circle cx="472" cy="465" r="1.1" fill="#000"/>
<circle cx="472.9" cy="466.8" r="1.1" fill="#000"/>
<circle cx="472.9" cy="476" r="1.1" fill="#000"/>
<text x="453.7" y="416.72" font-size="5.6" fill="#444" textLength="26.3" lengthAdjust="spacingAndGlyphs"><tspan font-style="italic">P</tspan> = 0.048</text>
<line x1="460" y1="420.3" x2="473.7" y2="420.3" stroke="#555" stroke-width="0.9" />
<text x="421.3" y="473.32" font-size="5.6" fill="#444" textLength="18.7" lengthAdjust="spacingAndGlyphs"><tspan font-style="italic">P</tspan> = 0.3</text>
<line x1="423.3" y1="476.3" x2="436.9" y2="476.3" stroke="#555" stroke-width="0.9" />
<text x="352.82" y="465.8" font-size="7" fill="#333" text-anchor="middle" transform="rotate(-90 350.3 465.8)" textLength="65.5" lengthAdjust="spacingAndGlyphs">Relative expression</text>
<text x="393.2" y="515.83" font-size="7.3" fill="#333" text-anchor="middle" textLength="18.3" lengthAdjust="spacingAndGlyphs" >hTSC</text>
<text x="430" y="515.83" font-size="7.3" fill="#333" text-anchor="middle" textLength="12.8" lengthAdjust="spacingAndGlyphs" >EVT</text>
<text x="466.6" y="515.83" font-size="7.3" fill="#333" text-anchor="middle" textLength="16.8" lengthAdjust="spacingAndGlyphs" >SynT</text>
<text x="500.7" y="416.18" font-size="6.6" fill="#333" textLength="28.1" lengthAdjust="spacingAndGlyphs" >sgRNAs:</text>
<rect x="500" y="422.1" width="6.8" height="6.4" fill="#ff7f00" stroke="#222" stroke-width="0.6"/>
<rect x="500" y="433.5" width="6.8" height="6.3" fill="#fdbf6f" stroke="#222" stroke-width="0.6"/>
<text x="511.2" y="428.02" font-size="7" fill="#333" textLength="17.6" lengthAdjust="spacingAndGlyphs" >None</text>
<text x="511.2" y="438.92" font-size="7" fill="#333" textLength="20.9" lengthAdjust="spacingAndGlyphs" >LTR8B</text>
</svg></body></html>
